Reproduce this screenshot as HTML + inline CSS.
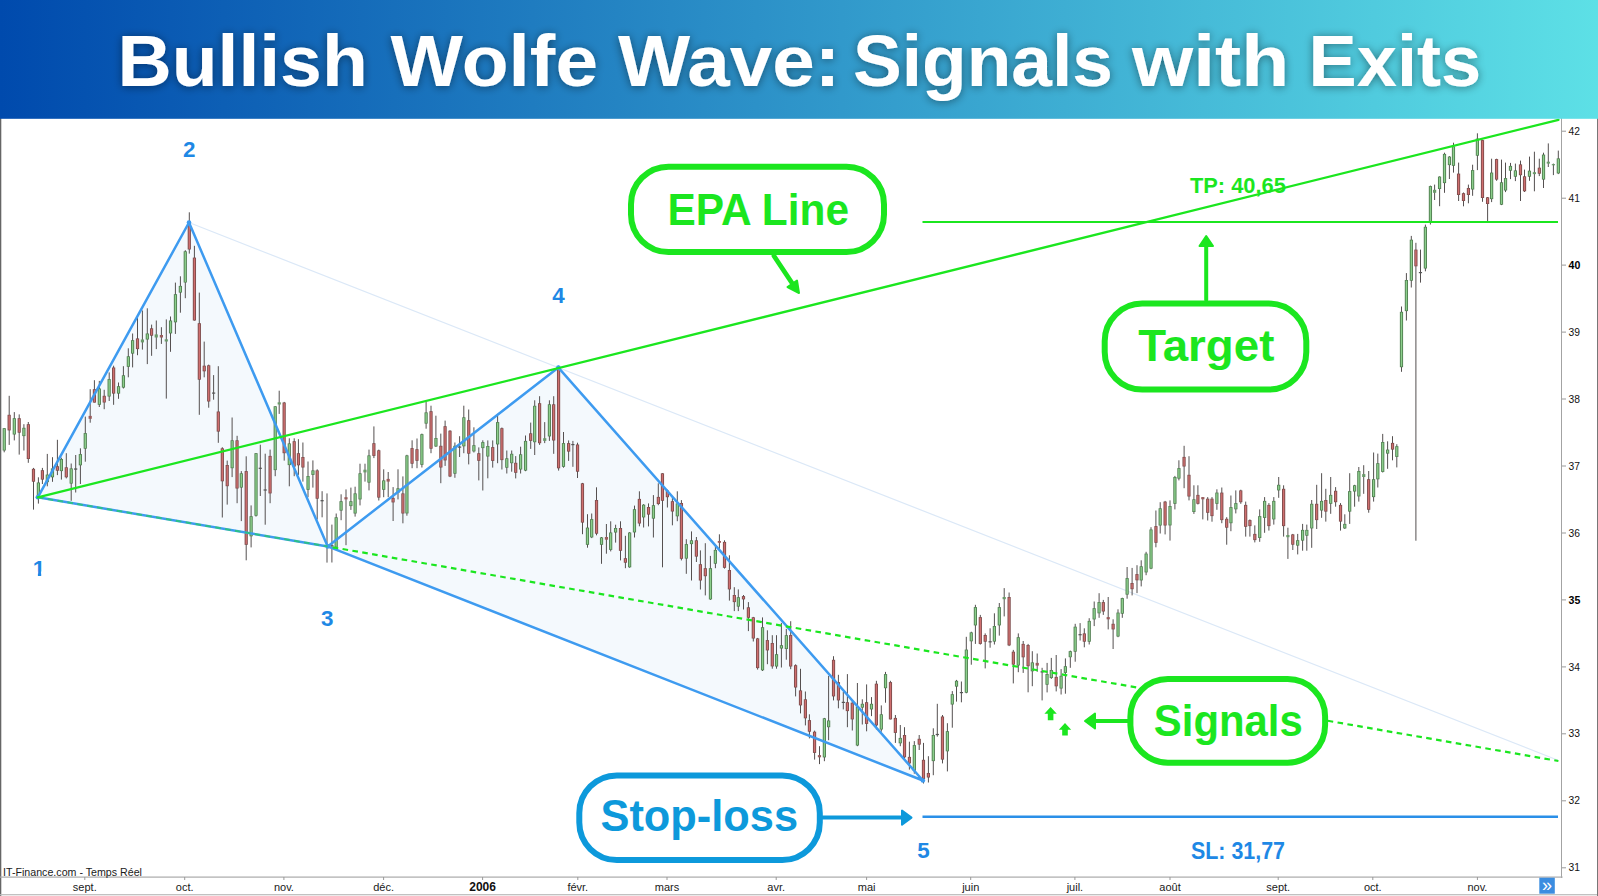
<!DOCTYPE html>
<html lang="en"><head><meta charset="utf-8"><title>Bullish Wolfe Wave: Signals with Exits</title>
<style>
html,body{margin:0;padding:0;background:#fff;}
body{width:1598px;height:896px;overflow:hidden;position:relative;font-family:"Liberation Sans",sans-serif;}
svg{position:absolute;left:0;top:0;display:block}
text{font-family:"Liberation Sans",sans-serif;}
.ax{font-size:11px;fill:#1a1a1a;}
.ay{font-size:10.3px;fill:#111;}
.ayb{font-size:10.6px;fill:#000;font-weight:bold;}
.axb{font-size:12px;fill:#111;font-weight:bold;}
.num{font-size:22.4px;font-weight:bold;fill:#1e88e5;}
.call{font-weight:bold;}
</style></head><body>
<svg width="1598" height="896" viewBox="0 0 1598 896">
<defs>
<linearGradient id="hg" x1="0" y1="0" x2="1" y2="0"><stop offset="0" stop-color="#004aad"/><stop offset="1" stop-color="#5de0e6"/></linearGradient>
<filter id="ts" x="-5%" y="-30%" width="110%" height="160%"><feGaussianBlur in="SourceAlpha" stdDeviation="5"/><feOffset dx="0" dy="1"/><feComponentTransfer><feFuncA type="linear" slope="0.45"/></feComponentTransfer><feMerge><feMergeNode/><feMergeNode in="SourceGraphic"/></feMerge></filter>
</defs>
<rect x="0" y="0" width="1598" height="896" fill="#fff"/>

<g id="frame">
<rect x="0" y="118" width="1.3" height="778" fill="#666"/>
<rect x="1561" y="118" width="0.9" height="760" fill="#999"/>
<rect x="0" y="876.5" width="1562.6" height="1.2" fill="#aaa"/>
<rect x="0" y="894.1" width="1598" height="1.2" fill="#bbb"/>
<rect x="1597" y="118" width="1" height="778" fill="#777"/>
</g>
<g id="pattern">
<polygon points="37.8,497.3 189.0,222.5 327.7,546.4" fill="#f4f9fd"/>
<polygon points="327.7,546.4 558.4,367.6 922.9,780.5" fill="#f4f9fd"/>
<line x1="189.0" y1="222.5" x2="1558" y2="760.2" stroke="#dbe8f7" stroke-width="1.2"/>
</g>
<g id="candles">
<rect x="3.7" y="428.2" width="1" height="24.1" fill="#555050"/>
<rect x="2.64" y="428.2" width="3.2" height="22.3" fill="#4f7d4f"/>
<rect x="3.54" y="428.9" width="1.4" height="20.9" fill="#8ccf8c"/>
<rect x="8.7" y="395.8" width="1" height="49.1" fill="#555050"/>
<rect x="7.55" y="414.8" width="3.2" height="15.6" fill="#7d4b4b"/>
<rect x="8.45" y="415.5" width="1.4" height="14.2" fill="#cf6f6f"/>
<rect x="13.8" y="412.1" width="1" height="28.3" fill="#555050"/>
<rect x="12.69" y="418.2" width="3.2" height="16.3" fill="#4f7d4f"/>
<rect x="13.59" y="418.9" width="1.4" height="14.9" fill="#8ccf8c"/>
<rect x="18.7" y="414.4" width="1" height="40.2" fill="#555050"/>
<rect x="17.60" y="418.2" width="3.2" height="14.5" fill="#7d4b4b"/>
<rect x="18.50" y="418.9" width="1.4" height="13.1" fill="#cf6f6f"/>
<rect x="23.4" y="424.2" width="1" height="26.3" fill="#555050"/>
<rect x="22.28" y="427.8" width="3.2" height="8.3" fill="#4f7d4f"/>
<rect x="23.18" y="428.5" width="1.4" height="6.9" fill="#8ccf8c"/>
<rect x="27.8" y="422.0" width="1" height="40.8" fill="#555050"/>
<rect x="26.75" y="424.2" width="3.2" height="34.8" fill="#7d4b4b"/>
<rect x="27.65" y="424.9" width="1.4" height="33.4" fill="#cf6f6f"/>
<rect x="33.0" y="467.9" width="1" height="41.7" fill="#555050"/>
<rect x="31.88" y="468.8" width="3.2" height="12.9" fill="#7d4b4b"/>
<rect x="32.78" y="469.5" width="1.4" height="11.5" fill="#cf6f6f"/>
<rect x="37.9" y="477.3" width="1" height="26.3" fill="#555050"/>
<rect x="36.79" y="482.5" width="3.2" height="15.0" fill="#4f7d4f"/>
<rect x="37.69" y="483.2" width="1.4" height="13.6" fill="#8ccf8c"/>
<rect x="41.9" y="467.9" width="1" height="16.1" fill="#555050"/>
<rect x="40.81" y="470.2" width="3.2" height="9.4" fill="#7d4b4b"/>
<rect x="41.71" y="470.9" width="1.4" height="8.0" fill="#cf6f6f"/>
<rect x="46.8" y="453.9" width="1" height="32.4" fill="#555050"/>
<rect x="45.72" y="474.6" width="3.2" height="7.6" fill="#4f7d4f"/>
<rect x="46.62" y="475.3" width="1.4" height="6.2" fill="#8ccf8c"/>
<rect x="52.0" y="457.2" width="1" height="24.6" fill="#555050"/>
<rect x="50.86" y="468.4" width="3.2" height="8.9" fill="#4f7d4f"/>
<rect x="51.76" y="469.1" width="1.4" height="7.5" fill="#8ccf8c"/>
<rect x="56.9" y="439.8" width="1" height="35.3" fill="#555050"/>
<rect x="55.77" y="466.2" width="3.2" height="4.5" fill="#7d4b4b"/>
<rect x="56.67" y="466.9" width="1.4" height="3.1" fill="#cf6f6f"/>
<rect x="60.9" y="457.7" width="1" height="21.9" fill="#555050"/>
<rect x="59.78" y="459.0" width="3.2" height="12.1" fill="#4f7d4f"/>
<rect x="60.68" y="459.7" width="1.4" height="10.7" fill="#8ccf8c"/>
<rect x="65.8" y="453.2" width="1" height="25.2" fill="#555050"/>
<rect x="64.69" y="467.3" width="3.2" height="10.0" fill="#7d4b4b"/>
<rect x="65.59" y="468.0" width="1.4" height="8.6" fill="#cf6f6f"/>
<rect x="70.7" y="463.5" width="1" height="37.3" fill="#555050"/>
<rect x="69.61" y="468.4" width="3.2" height="15.2" fill="#4f7d4f"/>
<rect x="70.51" y="469.1" width="1.4" height="13.8" fill="#8ccf8c"/>
<rect x="75.2" y="455.0" width="1" height="37.5" fill="#555050"/>
<rect x="74.07" y="468.4" width="3.2" height="1.3" fill="#555"/>
<rect x="79.9" y="448.3" width="1" height="35.7" fill="#555050"/>
<rect x="78.76" y="454.1" width="3.2" height="11.2" fill="#4f7d4f"/>
<rect x="79.66" y="454.8" width="1.4" height="9.8" fill="#8ccf8c"/>
<rect x="84.8" y="416.6" width="1" height="45.1" fill="#555050"/>
<rect x="83.67" y="433.1" width="3.2" height="15.6" fill="#4f7d4f"/>
<rect x="84.57" y="433.8" width="1.4" height="14.2" fill="#8ccf8c"/>
<rect x="89.7" y="389.2" width="1" height="33.5" fill="#555050"/>
<rect x="88.58" y="415.9" width="3.2" height="2.9" fill="#9a5c5c"/>
<rect x="93.9" y="380.2" width="1" height="22.3" fill="#555050"/>
<rect x="92.82" y="389.2" width="3.2" height="13.4" fill="#7d4b4b"/>
<rect x="93.72" y="389.9" width="1.4" height="12.0" fill="#cf6f6f"/>
<rect x="98.8" y="380.9" width="1" height="26.1" fill="#555050"/>
<rect x="97.73" y="388.5" width="3.2" height="16.3" fill="#4f7d4f"/>
<rect x="98.63" y="389.2" width="1.4" height="14.9" fill="#8ccf8c"/>
<rect x="103.7" y="389.8" width="1" height="19.4" fill="#555050"/>
<rect x="102.64" y="395.8" width="3.2" height="6.7" fill="#7d4b4b"/>
<rect x="103.54" y="396.5" width="1.4" height="5.3" fill="#cf6f6f"/>
<rect x="108.7" y="372.4" width="1" height="28.6" fill="#555050"/>
<rect x="107.55" y="379.1" width="3.2" height="17.4" fill="#4f7d4f"/>
<rect x="108.45" y="379.8" width="1.4" height="16.0" fill="#8ccf8c"/>
<rect x="113.1" y="365.7" width="1" height="39.1" fill="#555050"/>
<rect x="112.02" y="367.5" width="3.2" height="26.1" fill="#7d4b4b"/>
<rect x="112.92" y="368.2" width="1.4" height="24.7" fill="#cf6f6f"/>
<rect x="118.0" y="382.5" width="1" height="16.3" fill="#555050"/>
<rect x="116.93" y="386.2" width="3.2" height="7.4" fill="#4f7d4f"/>
<rect x="117.83" y="386.9" width="1.4" height="6.0" fill="#8ccf8c"/>
<rect x="122.9" y="366.2" width="1" height="22.3" fill="#555050"/>
<rect x="121.84" y="375.3" width="3.2" height="12.3" fill="#4f7d4f"/>
<rect x="122.74" y="376.0" width="1.4" height="10.9" fill="#8ccf8c"/>
<rect x="127.8" y="348.3" width="1" height="29.0" fill="#555050"/>
<rect x="126.75" y="356.3" width="3.2" height="10.5" fill="#4f7d4f"/>
<rect x="127.65" y="357.0" width="1.4" height="9.1" fill="#8ccf8c"/>
<rect x="132.1" y="333.5" width="1" height="33.9" fill="#555050"/>
<rect x="130.99" y="340.2" width="3.2" height="13.4" fill="#4f7d4f"/>
<rect x="131.89" y="340.9" width="1.4" height="12.0" fill="#8ccf8c"/>
<rect x="137.0" y="317.9" width="1" height="37.3" fill="#555050"/>
<rect x="135.90" y="338.4" width="3.2" height="10.7" fill="#7d4b4b"/>
<rect x="136.80" y="339.1" width="1.4" height="9.3" fill="#cf6f6f"/>
<rect x="141.9" y="310.5" width="1" height="39.1" fill="#555050"/>
<rect x="140.81" y="339.5" width="3.2" height="2.9" fill="#6a9a6a"/>
<rect x="146.8" y="308.3" width="1" height="55.8" fill="#555050"/>
<rect x="145.72" y="333.5" width="3.2" height="6.0" fill="#4f7d4f"/>
<rect x="146.62" y="334.2" width="1.4" height="4.6" fill="#8ccf8c"/>
<rect x="151.1" y="324.6" width="1" height="31.2" fill="#555050"/>
<rect x="149.96" y="328.3" width="3.2" height="7.4" fill="#7d4b4b"/>
<rect x="150.86" y="329.0" width="1.4" height="6.0" fill="#cf6f6f"/>
<rect x="155.8" y="320.5" width="1" height="28.6" fill="#555050"/>
<rect x="154.65" y="334.4" width="3.2" height="3.1" fill="#6a9a6a"/>
<rect x="160.9" y="327.2" width="1" height="16.7" fill="#555050"/>
<rect x="159.78" y="335.0" width="3.2" height="2.5" fill="#9a5c5c"/>
<rect x="165.8" y="319.4" width="1" height="79.2" fill="#555050"/>
<rect x="164.69" y="339.3" width="3.2" height="2.2" fill="#6a9a6a"/>
<rect x="170.0" y="316.5" width="1" height="35.3" fill="#555050"/>
<rect x="168.94" y="320.5" width="3.2" height="12.9" fill="#4f7d4f"/>
<rect x="169.84" y="321.2" width="1.4" height="11.5" fill="#8ccf8c"/>
<rect x="174.9" y="282.6" width="1" height="51.3" fill="#555050"/>
<rect x="173.85" y="294.2" width="3.2" height="28.1" fill="#4f7d4f"/>
<rect x="174.75" y="294.9" width="1.4" height="26.7" fill="#8ccf8c"/>
<rect x="179.9" y="276.3" width="1" height="36.4" fill="#555050"/>
<rect x="178.76" y="285.9" width="3.2" height="6.7" fill="#4f7d4f"/>
<rect x="179.66" y="286.6" width="1.4" height="5.3" fill="#8ccf8c"/>
<rect x="184.8" y="250.2" width="1" height="48.0" fill="#555050"/>
<rect x="183.67" y="251.3" width="3.2" height="31.2" fill="#4f7d4f"/>
<rect x="184.57" y="252.0" width="1.4" height="29.9" fill="#8ccf8c"/>
<rect x="188.8" y="212.3" width="1" height="41.3" fill="#555050"/>
<rect x="187.69" y="223.4" width="3.2" height="26.1" fill="#7d4b4b"/>
<rect x="188.59" y="224.1" width="1.4" height="24.7" fill="#cf6f6f"/>
<rect x="193.9" y="245.8" width="1" height="74.8" fill="#555050"/>
<rect x="192.82" y="257.6" width="3.2" height="62.9" fill="#7d4b4b"/>
<rect x="193.72" y="258.3" width="1.4" height="61.5" fill="#cf6f6f"/>
<rect x="198.8" y="292.6" width="1" height="122.2" fill="#555050"/>
<rect x="197.73" y="323.2" width="3.2" height="56.5" fill="#7d4b4b"/>
<rect x="198.63" y="323.9" width="1.4" height="55.1" fill="#cf6f6f"/>
<rect x="203.7" y="341.6" width="1" height="35.7" fill="#555050"/>
<rect x="202.64" y="365.7" width="3.2" height="5.6" fill="#7d4b4b"/>
<rect x="203.54" y="366.4" width="1.4" height="4.2" fill="#cf6f6f"/>
<rect x="208.2" y="364.6" width="1" height="43.1" fill="#555050"/>
<rect x="207.11" y="365.3" width="3.2" height="36.2" fill="#7d4b4b"/>
<rect x="208.01" y="366.0" width="1.4" height="34.8" fill="#cf6f6f"/>
<rect x="213.1" y="375.1" width="1" height="24.6" fill="#555050"/>
<rect x="212.02" y="392.5" width="3.2" height="1.2" fill="#555"/>
<rect x="217.8" y="366.2" width="1" height="76.6" fill="#555050"/>
<rect x="216.70" y="411.5" width="3.2" height="20.1" fill="#7d4b4b"/>
<rect x="217.60" y="412.2" width="1.4" height="18.7" fill="#cf6f6f"/>
<rect x="221.8" y="447.2" width="1" height="70.3" fill="#555050"/>
<rect x="220.72" y="448.3" width="3.2" height="33.0" fill="#7d4b4b"/>
<rect x="221.62" y="449.0" width="1.4" height="31.6" fill="#cf6f6f"/>
<rect x="226.7" y="460.6" width="1" height="44.0" fill="#555050"/>
<rect x="225.63" y="465.0" width="3.2" height="21.2" fill="#7d4b4b"/>
<rect x="226.53" y="465.7" width="1.4" height="19.8" fill="#cf6f6f"/>
<rect x="231.6" y="417.5" width="1" height="59.6" fill="#555050"/>
<rect x="230.54" y="440.3" width="3.2" height="27.9" fill="#4f7d4f"/>
<rect x="231.44" y="441.0" width="1.4" height="26.5" fill="#8ccf8c"/>
<rect x="236.6" y="435.8" width="1" height="67.4" fill="#555050"/>
<rect x="235.45" y="440.3" width="3.2" height="48.2" fill="#7d4b4b"/>
<rect x="236.35" y="441.0" width="1.4" height="46.8" fill="#cf6f6f"/>
<rect x="240.8" y="471.1" width="1" height="50.0" fill="#555050"/>
<rect x="239.69" y="473.3" width="3.2" height="14.3" fill="#4f7d4f"/>
<rect x="240.59" y="474.0" width="1.4" height="12.9" fill="#8ccf8c"/>
<rect x="245.7" y="456.3" width="1" height="104.0" fill="#555050"/>
<rect x="244.61" y="471.1" width="3.2" height="73.7" fill="#7d4b4b"/>
<rect x="245.51" y="471.8" width="1.4" height="72.3" fill="#cf6f6f"/>
<rect x="250.6" y="505.4" width="1" height="42.0" fill="#555050"/>
<rect x="249.52" y="516.2" width="3.2" height="20.1" fill="#4f7d4f"/>
<rect x="250.42" y="516.9" width="1.4" height="18.7" fill="#8ccf8c"/>
<rect x="255.5" y="453.2" width="1" height="63.4" fill="#555050"/>
<rect x="254.43" y="453.2" width="3.2" height="62.5" fill="#4f7d4f"/>
<rect x="255.33" y="453.9" width="1.4" height="61.1" fill="#8ccf8c"/>
<rect x="259.8" y="444.7" width="1" height="51.3" fill="#555050"/>
<rect x="258.67" y="467.7" width="3.2" height="1.2" fill="#555"/>
<rect x="264.7" y="453.7" width="1" height="71.0" fill="#555050"/>
<rect x="263.58" y="489.4" width="3.2" height="1.2" fill="#555"/>
<rect x="269.6" y="449.6" width="1" height="53.6" fill="#555050"/>
<rect x="268.49" y="455.9" width="3.2" height="37.5" fill="#7d4b4b"/>
<rect x="269.39" y="456.6" width="1.4" height="36.1" fill="#cf6f6f"/>
<rect x="274.7" y="406.3" width="1" height="69.9" fill="#555050"/>
<rect x="273.62" y="406.3" width="3.2" height="63.8" fill="#4f7d4f"/>
<rect x="274.52" y="407.0" width="1.4" height="62.4" fill="#8ccf8c"/>
<rect x="278.7" y="390.7" width="1" height="23.2" fill="#555050"/>
<rect x="277.64" y="402.3" width="3.2" height="2.2" fill="#6a9a6a"/>
<rect x="283.7" y="401.9" width="1" height="58.7" fill="#555050"/>
<rect x="282.55" y="402.5" width="3.2" height="50.7" fill="#7d4b4b"/>
<rect x="283.45" y="403.2" width="1.4" height="49.3" fill="#cf6f6f"/>
<rect x="288.8" y="438.3" width="1" height="48.0" fill="#555050"/>
<rect x="287.69" y="443.4" width="3.2" height="21.7" fill="#4f7d4f"/>
<rect x="288.59" y="444.1" width="1.4" height="20.3" fill="#8ccf8c"/>
<rect x="293.7" y="438.3" width="1" height="37.9" fill="#555050"/>
<rect x="292.60" y="441.2" width="3.2" height="25.4" fill="#7d4b4b"/>
<rect x="293.50" y="441.9" width="1.4" height="24.0" fill="#cf6f6f"/>
<rect x="297.9" y="439.2" width="1" height="35.7" fill="#555050"/>
<rect x="296.84" y="453.2" width="3.2" height="12.1" fill="#7d4b4b"/>
<rect x="297.74" y="453.9" width="1.4" height="10.7" fill="#cf6f6f"/>
<rect x="302.4" y="442.5" width="1" height="39.1" fill="#555050"/>
<rect x="301.30" y="457.0" width="3.2" height="10.5" fill="#7d4b4b"/>
<rect x="302.20" y="457.7" width="1.4" height="9.1" fill="#cf6f6f"/>
<rect x="307.5" y="461.5" width="1" height="35.7" fill="#555050"/>
<rect x="306.44" y="476.0" width="3.2" height="13.8" fill="#4f7d4f"/>
<rect x="307.34" y="476.7" width="1.4" height="12.4" fill="#8ccf8c"/>
<rect x="312.4" y="460.4" width="1" height="27.2" fill="#555050"/>
<rect x="311.35" y="470.4" width="3.2" height="4.5" fill="#4f7d4f"/>
<rect x="312.25" y="471.1" width="1.4" height="3.1" fill="#8ccf8c"/>
<rect x="316.7" y="469.3" width="1" height="50.2" fill="#555050"/>
<rect x="315.59" y="470.4" width="3.2" height="28.3" fill="#7d4b4b"/>
<rect x="316.49" y="471.1" width="1.4" height="26.9" fill="#cf6f6f"/>
<rect x="321.6" y="491.2" width="1" height="26.1" fill="#555050"/>
<rect x="320.50" y="500.1" width="3.2" height="1.2" fill="#555"/>
<rect x="326.5" y="493.4" width="1" height="69.2" fill="#555050"/>
<rect x="325.41" y="545.2" width="3.2" height="1.2" fill="#555"/>
<rect x="331.4" y="524.6" width="1" height="37.9" fill="#555050"/>
<rect x="330.32" y="545.2" width="3.2" height="1.2" fill="#555"/>
<rect x="335.7" y="513.5" width="1" height="34.4" fill="#555050"/>
<rect x="334.56" y="517.3" width="3.2" height="30.1" fill="#4f7d4f"/>
<rect x="335.46" y="518.0" width="1.4" height="28.7" fill="#8ccf8c"/>
<rect x="340.6" y="494.3" width="1" height="25.9" fill="#555050"/>
<rect x="339.47" y="501.2" width="3.2" height="9.4" fill="#4f7d4f"/>
<rect x="340.37" y="501.9" width="1.4" height="8.0" fill="#8ccf8c"/>
<rect x="345.5" y="489.4" width="1" height="55.8" fill="#555050"/>
<rect x="344.38" y="497.2" width="3.2" height="2.2" fill="#9a5c5c"/>
<rect x="350.4" y="487.6" width="1" height="22.3" fill="#555050"/>
<rect x="349.29" y="501.2" width="3.2" height="4.9" fill="#4f7d4f"/>
<rect x="350.19" y="501.9" width="1.4" height="3.5" fill="#8ccf8c"/>
<rect x="354.6" y="486.7" width="1" height="29.9" fill="#555050"/>
<rect x="353.53" y="493.4" width="3.2" height="20.1" fill="#4f7d4f"/>
<rect x="354.43" y="494.1" width="1.4" height="18.7" fill="#8ccf8c"/>
<rect x="359.5" y="463.7" width="1" height="41.7" fill="#555050"/>
<rect x="358.44" y="473.3" width="3.2" height="26.1" fill="#4f7d4f"/>
<rect x="359.34" y="474.0" width="1.4" height="24.7" fill="#8ccf8c"/>
<rect x="364.5" y="463.7" width="1" height="17.9" fill="#555050"/>
<rect x="363.36" y="469.7" width="3.2" height="2.7" fill="#6a9a6a"/>
<rect x="368.5" y="449.6" width="1" height="40.8" fill="#555050"/>
<rect x="367.37" y="455.4" width="3.2" height="27.2" fill="#4f7d4f"/>
<rect x="368.27" y="456.1" width="1.4" height="25.8" fill="#8ccf8c"/>
<rect x="373.4" y="426.4" width="1" height="31.7" fill="#555050"/>
<rect x="372.28" y="443.2" width="3.2" height="12.7" fill="#7d4b4b"/>
<rect x="373.18" y="443.9" width="1.4" height="11.3" fill="#cf6f6f"/>
<rect x="378.3" y="449.6" width="1" height="50.9" fill="#555050"/>
<rect x="377.19" y="450.3" width="3.2" height="47.3" fill="#7d4b4b"/>
<rect x="378.09" y="451.0" width="1.4" height="45.9" fill="#cf6f6f"/>
<rect x="383.2" y="469.3" width="1" height="27.9" fill="#555050"/>
<rect x="382.11" y="480.4" width="3.2" height="9.4" fill="#4f7d4f"/>
<rect x="383.01" y="481.1" width="1.4" height="8.0" fill="#8ccf8c"/>
<rect x="387.7" y="472.0" width="1" height="25.2" fill="#555050"/>
<rect x="386.57" y="478.9" width="3.2" height="2.7" fill="#9a5c5c"/>
<rect x="392.6" y="487.1" width="1" height="33.9" fill="#555050"/>
<rect x="391.48" y="497.9" width="3.2" height="4.5" fill="#7d4b4b"/>
<rect x="392.38" y="498.6" width="1.4" height="3.1" fill="#cf6f6f"/>
<rect x="397.5" y="469.3" width="1" height="30.1" fill="#555050"/>
<rect x="396.39" y="488.3" width="3.2" height="4.5" fill="#4f7d4f"/>
<rect x="397.29" y="489.0" width="1.4" height="3.1" fill="#8ccf8c"/>
<rect x="402.4" y="476.4" width="1" height="46.9" fill="#555050"/>
<rect x="401.30" y="493.4" width="3.2" height="20.1" fill="#7d4b4b"/>
<rect x="402.20" y="494.1" width="1.4" height="18.7" fill="#cf6f6f"/>
<rect x="406.4" y="454.8" width="1" height="60.9" fill="#555050"/>
<rect x="405.32" y="455.4" width="3.2" height="58.0" fill="#4f7d4f"/>
<rect x="406.22" y="456.1" width="1.4" height="56.6" fill="#8ccf8c"/>
<rect x="411.6" y="440.3" width="1" height="27.9" fill="#555050"/>
<rect x="410.45" y="448.1" width="3.2" height="15.6" fill="#7d4b4b"/>
<rect x="411.35" y="448.8" width="1.4" height="14.2" fill="#cf6f6f"/>
<rect x="416.5" y="438.5" width="1" height="29.7" fill="#555050"/>
<rect x="415.36" y="449.2" width="3.2" height="11.6" fill="#7d4b4b"/>
<rect x="416.26" y="449.9" width="1.4" height="10.2" fill="#cf6f6f"/>
<rect x="421.4" y="433.6" width="1" height="33.9" fill="#555050"/>
<rect x="420.27" y="434.2" width="3.2" height="30.6" fill="#4f7d4f"/>
<rect x="421.18" y="434.9" width="1.4" height="29.2" fill="#8ccf8c"/>
<rect x="425.6" y="401.9" width="1" height="26.8" fill="#555050"/>
<rect x="424.52" y="412.4" width="3.2" height="11.2" fill="#4f7d4f"/>
<rect x="425.42" y="413.1" width="1.4" height="9.8" fill="#8ccf8c"/>
<rect x="430.5" y="405.7" width="1" height="47.5" fill="#555050"/>
<rect x="429.43" y="411.2" width="3.2" height="37.5" fill="#7d4b4b"/>
<rect x="430.33" y="411.9" width="1.4" height="36.1" fill="#cf6f6f"/>
<rect x="435.4" y="415.7" width="1" height="31.2" fill="#555050"/>
<rect x="434.34" y="438.0" width="3.2" height="8.5" fill="#4f7d4f"/>
<rect x="435.24" y="438.7" width="1.4" height="7.1" fill="#8ccf8c"/>
<rect x="440.3" y="433.6" width="1" height="49.6" fill="#555050"/>
<rect x="439.25" y="445.8" width="3.2" height="21.7" fill="#7d4b4b"/>
<rect x="440.15" y="446.5" width="1.4" height="20.3" fill="#cf6f6f"/>
<rect x="444.6" y="420.6" width="1" height="45.3" fill="#555050"/>
<rect x="443.49" y="426.2" width="3.2" height="34.2" fill="#7d4b4b"/>
<rect x="444.39" y="426.9" width="1.4" height="32.8" fill="#cf6f6f"/>
<rect x="449.5" y="430.2" width="1" height="46.9" fill="#555050"/>
<rect x="448.40" y="430.7" width="3.2" height="45.8" fill="#7d4b4b"/>
<rect x="449.30" y="431.4" width="1.4" height="44.4" fill="#cf6f6f"/>
<rect x="454.4" y="442.5" width="1" height="35.3" fill="#555050"/>
<rect x="453.31" y="445.8" width="3.2" height="27.9" fill="#4f7d4f"/>
<rect x="454.21" y="446.5" width="1.4" height="26.5" fill="#8ccf8c"/>
<rect x="459.1" y="436.2" width="1" height="20.8" fill="#555050"/>
<rect x="458.00" y="446.5" width="3.2" height="1.2" fill="#555"/>
<rect x="463.3" y="405.7" width="1" height="47.5" fill="#555050"/>
<rect x="462.24" y="417.3" width="3.2" height="29.0" fill="#4f7d4f"/>
<rect x="463.14" y="418.0" width="1.4" height="27.6" fill="#8ccf8c"/>
<rect x="468.2" y="409.5" width="1" height="54.9" fill="#555050"/>
<rect x="467.15" y="420.2" width="3.2" height="33.5" fill="#7d4b4b"/>
<rect x="468.05" y="420.9" width="1.4" height="32.1" fill="#cf6f6f"/>
<rect x="473.4" y="427.3" width="1" height="25.2" fill="#555050"/>
<rect x="472.28" y="445.2" width="3.2" height="6.2" fill="#4f7d4f"/>
<rect x="473.18" y="445.9" width="1.4" height="4.8" fill="#8ccf8c"/>
<rect x="478.3" y="447.4" width="1" height="33.0" fill="#555050"/>
<rect x="477.19" y="453.2" width="3.2" height="7.6" fill="#7d4b4b"/>
<rect x="478.09" y="453.9" width="1.4" height="6.2" fill="#cf6f6f"/>
<rect x="482.3" y="440.3" width="1" height="50.2" fill="#555050"/>
<rect x="481.21" y="442.1" width="3.2" height="6.0" fill="#4f7d4f"/>
<rect x="482.11" y="442.8" width="1.4" height="4.6" fill="#8ccf8c"/>
<rect x="487.3" y="440.4" width="1" height="37.9" fill="#555050"/>
<rect x="486.21" y="446.0" width="3.2" height="10.5" fill="#4f7d4f"/>
<rect x="487.11" y="446.7" width="1.4" height="9.1" fill="#8ccf8c"/>
<rect x="492.2" y="440.4" width="1" height="27.2" fill="#555050"/>
<rect x="491.12" y="447.1" width="3.2" height="13.8" fill="#7d4b4b"/>
<rect x="492.02" y="447.8" width="1.4" height="12.4" fill="#cf6f6f"/>
<rect x="497.1" y="415.9" width="1" height="47.3" fill="#555050"/>
<rect x="496.03" y="422.1" width="3.2" height="22.3" fill="#4f7d4f"/>
<rect x="496.93" y="422.8" width="1.4" height="20.9" fill="#8ccf8c"/>
<rect x="501.4" y="427.5" width="1" height="42.0" fill="#555050"/>
<rect x="500.27" y="428.2" width="3.2" height="31.9" fill="#7d4b4b"/>
<rect x="501.18" y="428.9" width="1.4" height="30.5" fill="#cf6f6f"/>
<rect x="506.3" y="450.5" width="1" height="23.0" fill="#555050"/>
<rect x="505.19" y="458.3" width="3.2" height="9.4" fill="#4f7d4f"/>
<rect x="506.09" y="459.0" width="1.4" height="8.0" fill="#8ccf8c"/>
<rect x="511.2" y="450.5" width="1" height="21.2" fill="#555050"/>
<rect x="510.10" y="453.8" width="3.2" height="9.4" fill="#4f7d4f"/>
<rect x="511.00" y="454.5" width="1.4" height="8.0" fill="#8ccf8c"/>
<rect x="515.2" y="456.1" width="1" height="22.3" fill="#555050"/>
<rect x="514.11" y="462.8" width="3.2" height="10.0" fill="#7d4b4b"/>
<rect x="515.01" y="463.5" width="1.4" height="8.6" fill="#cf6f6f"/>
<rect x="520.1" y="446.7" width="1" height="26.8" fill="#555050"/>
<rect x="519.02" y="454.3" width="3.2" height="15.2" fill="#4f7d4f"/>
<rect x="519.92" y="455.0" width="1.4" height="13.8" fill="#8ccf8c"/>
<rect x="525.0" y="435.5" width="1" height="35.7" fill="#555050"/>
<rect x="523.94" y="440.9" width="3.2" height="29.7" fill="#4f7d4f"/>
<rect x="524.84" y="441.6" width="1.4" height="28.3" fill="#8ccf8c"/>
<rect x="530.2" y="422.6" width="1" height="26.3" fill="#555050"/>
<rect x="529.07" y="433.3" width="3.2" height="7.6" fill="#7d4b4b"/>
<rect x="529.97" y="434.0" width="1.4" height="6.2" fill="#cf6f6f"/>
<rect x="534.2" y="400.3" width="1" height="54.7" fill="#555050"/>
<rect x="533.09" y="405.8" width="3.2" height="36.4" fill="#4f7d4f"/>
<rect x="533.99" y="406.5" width="1.4" height="35.0" fill="#8ccf8c"/>
<rect x="539.1" y="396.2" width="1" height="48.7" fill="#555050"/>
<rect x="538.00" y="403.2" width="3.2" height="40.0" fill="#7d4b4b"/>
<rect x="538.90" y="403.9" width="1.4" height="38.6" fill="#cf6f6f"/>
<rect x="544.2" y="422.1" width="1" height="21.0" fill="#555050"/>
<rect x="543.13" y="438.2" width="3.2" height="2.7" fill="#6a9a6a"/>
<rect x="548.9" y="400.3" width="1" height="40.6" fill="#555050"/>
<rect x="547.82" y="404.3" width="3.2" height="32.1" fill="#4f7d4f"/>
<rect x="548.72" y="405.0" width="1.4" height="30.7" fill="#8ccf8c"/>
<rect x="553.2" y="396.2" width="1" height="57.6" fill="#555050"/>
<rect x="552.06" y="404.3" width="3.2" height="36.2" fill="#7d4b4b"/>
<rect x="552.96" y="405.0" width="1.4" height="34.8" fill="#cf6f6f"/>
<rect x="558.1" y="365.7" width="1" height="104.9" fill="#555050"/>
<rect x="556.97" y="369.0" width="3.2" height="99.3" fill="#7d4b4b"/>
<rect x="557.87" y="369.7" width="1.4" height="97.9" fill="#cf6f6f"/>
<rect x="563.0" y="432.0" width="1" height="35.7" fill="#555050"/>
<rect x="561.88" y="443.1" width="3.2" height="23.7" fill="#4f7d4f"/>
<rect x="562.78" y="443.8" width="1.4" height="22.3" fill="#8ccf8c"/>
<rect x="568.1" y="440.4" width="1" height="20.5" fill="#555050"/>
<rect x="567.02" y="443.1" width="3.2" height="8.5" fill="#7d4b4b"/>
<rect x="567.92" y="443.8" width="1.4" height="7.1" fill="#cf6f6f"/>
<rect x="572.4" y="440.9" width="1" height="25.9" fill="#555050"/>
<rect x="571.26" y="444.0" width="3.2" height="1.2" fill="#555"/>
<rect x="577.0" y="442.7" width="1" height="35.3" fill="#555050"/>
<rect x="575.94" y="444.5" width="3.2" height="27.2" fill="#7d4b4b"/>
<rect x="576.84" y="445.2" width="1.4" height="25.8" fill="#cf6f6f"/>
<rect x="582.0" y="482.9" width="1" height="51.3" fill="#555050"/>
<rect x="580.86" y="483.3" width="3.2" height="39.3" fill="#7d4b4b"/>
<rect x="581.76" y="484.0" width="1.4" height="37.9" fill="#cf6f6f"/>
<rect x="587.0" y="514.2" width="1" height="33.5" fill="#555050"/>
<rect x="585.86" y="527.6" width="3.2" height="17.2" fill="#4f7d4f"/>
<rect x="586.76" y="528.3" width="1.4" height="15.8" fill="#8ccf8c"/>
<rect x="591.2" y="513.5" width="1" height="24.6" fill="#555050"/>
<rect x="590.10" y="519.1" width="3.2" height="18.3" fill="#4f7d4f"/>
<rect x="591.00" y="519.8" width="1.4" height="16.9" fill="#8ccf8c"/>
<rect x="596.0" y="487.3" width="1" height="48.0" fill="#555050"/>
<rect x="594.92" y="500.0" width="3.2" height="33.7" fill="#7d4b4b"/>
<rect x="595.82" y="500.7" width="1.4" height="32.3" fill="#cf6f6f"/>
<rect x="601.0" y="537.0" width="1" height="26.8" fill="#555050"/>
<rect x="599.92" y="537.4" width="3.2" height="7.4" fill="#4f7d4f"/>
<rect x="600.82" y="538.1" width="1.4" height="6.0" fill="#8ccf8c"/>
<rect x="605.9" y="524.0" width="1" height="29.7" fill="#555050"/>
<rect x="604.83" y="537.0" width="3.2" height="2.7" fill="#9a5c5c"/>
<rect x="610.2" y="521.3" width="1" height="30.1" fill="#555050"/>
<rect x="609.07" y="532.5" width="3.2" height="17.4" fill="#4f7d4f"/>
<rect x="609.97" y="533.2" width="1.4" height="16.0" fill="#8ccf8c"/>
<rect x="615.1" y="524.7" width="1" height="17.9" fill="#555050"/>
<rect x="613.98" y="528.0" width="3.2" height="4.5" fill="#4f7d4f"/>
<rect x="614.88" y="528.7" width="1.4" height="3.1" fill="#8ccf8c"/>
<rect x="620.0" y="521.3" width="1" height="39.1" fill="#555050"/>
<rect x="618.89" y="528.0" width="3.2" height="22.8" fill="#7d4b4b"/>
<rect x="619.79" y="528.7" width="1.4" height="21.4" fill="#cf6f6f"/>
<rect x="624.9" y="535.8" width="1" height="32.4" fill="#555050"/>
<rect x="623.80" y="558.2" width="3.2" height="4.5" fill="#7d4b4b"/>
<rect x="624.70" y="558.9" width="1.4" height="3.1" fill="#cf6f6f"/>
<rect x="629.1" y="532.1" width="1" height="35.7" fill="#555050"/>
<rect x="628.04" y="532.5" width="3.2" height="34.8" fill="#4f7d4f"/>
<rect x="628.94" y="533.2" width="1.4" height="33.4" fill="#8ccf8c"/>
<rect x="634.0" y="505.6" width="1" height="31.9" fill="#555050"/>
<rect x="632.86" y="509.2" width="3.2" height="23.2" fill="#4f7d4f"/>
<rect x="633.76" y="509.9" width="1.4" height="21.8" fill="#8ccf8c"/>
<rect x="638.9" y="491.3" width="1" height="35.0" fill="#555050"/>
<rect x="637.77" y="498.9" width="3.2" height="24.6" fill="#7d4b4b"/>
<rect x="638.67" y="499.6" width="1.4" height="23.2" fill="#cf6f6f"/>
<rect x="643.1" y="504.1" width="1" height="23.4" fill="#555050"/>
<rect x="642.02" y="504.7" width="3.2" height="12.7" fill="#4f7d4f"/>
<rect x="642.92" y="505.4" width="1.4" height="11.3" fill="#8ccf8c"/>
<rect x="648.0" y="503.4" width="1" height="23.0" fill="#555050"/>
<rect x="646.93" y="507.0" width="3.2" height="7.6" fill="#7d4b4b"/>
<rect x="647.83" y="507.7" width="1.4" height="6.2" fill="#cf6f6f"/>
<rect x="652.9" y="495.1" width="1" height="42.4" fill="#555050"/>
<rect x="651.84" y="505.2" width="3.2" height="13.4" fill="#4f7d4f"/>
<rect x="652.74" y="505.9" width="1.4" height="12.0" fill="#8ccf8c"/>
<rect x="657.8" y="483.3" width="1" height="21.9" fill="#555050"/>
<rect x="656.75" y="496.9" width="3.2" height="7.1" fill="#7d4b4b"/>
<rect x="657.65" y="497.6" width="1.4" height="5.7" fill="#cf6f6f"/>
<rect x="662.0" y="473.3" width="1" height="94.0" fill="#555050"/>
<rect x="660.86" y="473.3" width="3.2" height="27.5" fill="#7d4b4b"/>
<rect x="661.76" y="474.0" width="1.4" height="26.1" fill="#cf6f6f"/>
<rect x="666.9" y="489.6" width="1" height="17.9" fill="#555050"/>
<rect x="665.77" y="490.5" width="3.2" height="6.7" fill="#7d4b4b"/>
<rect x="666.67" y="491.2" width="1.4" height="5.3" fill="#cf6f6f"/>
<rect x="671.9" y="497.4" width="1" height="27.9" fill="#555050"/>
<rect x="670.81" y="501.2" width="3.2" height="10.3" fill="#7d4b4b"/>
<rect x="671.71" y="501.9" width="1.4" height="8.9" fill="#cf6f6f"/>
<rect x="676.8" y="491.3" width="1" height="29.9" fill="#555050"/>
<rect x="675.72" y="503.4" width="3.2" height="12.9" fill="#4f7d4f"/>
<rect x="676.62" y="504.1" width="1.4" height="11.5" fill="#8ccf8c"/>
<rect x="680.9" y="500.1" width="1" height="60.3" fill="#555050"/>
<rect x="679.83" y="503.0" width="3.2" height="55.8" fill="#7d4b4b"/>
<rect x="680.73" y="503.7" width="1.4" height="54.4" fill="#cf6f6f"/>
<rect x="685.8" y="539.2" width="1" height="34.6" fill="#555050"/>
<rect x="684.74" y="544.1" width="3.2" height="14.5" fill="#4f7d4f"/>
<rect x="685.64" y="544.8" width="1.4" height="13.1" fill="#8ccf8c"/>
<rect x="691.0" y="531.4" width="1" height="49.1" fill="#555050"/>
<rect x="689.87" y="540.3" width="3.2" height="3.8" fill="#4f7d4f"/>
<rect x="690.77" y="541.0" width="1.4" height="2.4" fill="#8ccf8c"/>
<rect x="695.9" y="537.0" width="1" height="25.0" fill="#555050"/>
<rect x="694.78" y="540.3" width="3.2" height="16.3" fill="#7d4b4b"/>
<rect x="695.68" y="541.0" width="1.4" height="14.9" fill="#cf6f6f"/>
<rect x="699.9" y="550.4" width="1" height="39.1" fill="#555050"/>
<rect x="698.80" y="564.2" width="3.2" height="16.3" fill="#7d4b4b"/>
<rect x="699.70" y="564.9" width="1.4" height="14.9" fill="#cf6f6f"/>
<rect x="704.8" y="543.2" width="1" height="52.2" fill="#555050"/>
<rect x="703.71" y="568.2" width="3.2" height="8.0" fill="#7d4b4b"/>
<rect x="704.61" y="568.9" width="1.4" height="6.6" fill="#cf6f6f"/>
<rect x="709.9" y="555.9" width="1" height="44.0" fill="#555050"/>
<rect x="708.85" y="568.2" width="3.2" height="31.2" fill="#4f7d4f"/>
<rect x="709.75" y="568.9" width="1.4" height="29.9" fill="#8ccf8c"/>
<rect x="714.9" y="546.3" width="1" height="21.9" fill="#555050"/>
<rect x="713.76" y="549.9" width="3.2" height="13.8" fill="#4f7d4f"/>
<rect x="714.66" y="550.6" width="1.4" height="12.4" fill="#8ccf8c"/>
<rect x="718.9" y="534.3" width="1" height="15.6" fill="#555050"/>
<rect x="717.77" y="541.0" width="3.2" height="1.8" fill="#9a5c5c"/>
<rect x="724.0" y="540.3" width="1" height="28.3" fill="#555050"/>
<rect x="722.91" y="541.9" width="3.2" height="25.9" fill="#7d4b4b"/>
<rect x="723.81" y="542.6" width="1.4" height="24.5" fill="#cf6f6f"/>
<rect x="728.9" y="555.3" width="1" height="45.3" fill="#555050"/>
<rect x="727.82" y="570.0" width="3.2" height="19.4" fill="#7d4b4b"/>
<rect x="728.72" y="570.7" width="1.4" height="18.0" fill="#cf6f6f"/>
<rect x="733.8" y="587.2" width="1" height="23.9" fill="#555050"/>
<rect x="732.73" y="595.0" width="3.2" height="7.1" fill="#7d4b4b"/>
<rect x="733.63" y="595.7" width="1.4" height="5.7" fill="#cf6f6f"/>
<rect x="737.8" y="589.4" width="1" height="21.7" fill="#555050"/>
<rect x="736.75" y="597.2" width="3.2" height="9.4" fill="#4f7d4f"/>
<rect x="737.65" y="597.9" width="1.4" height="8.0" fill="#8ccf8c"/>
<rect x="743.0" y="595.0" width="1" height="14.5" fill="#555050"/>
<rect x="741.88" y="596.1" width="3.2" height="3.3" fill="#7d4b4b"/>
<rect x="742.78" y="596.8" width="1.4" height="1.9" fill="#cf6f6f"/>
<rect x="747.9" y="602.1" width="1" height="29.0" fill="#555050"/>
<rect x="746.79" y="607.3" width="3.2" height="10.5" fill="#7d4b4b"/>
<rect x="747.69" y="608.0" width="1.4" height="9.1" fill="#cf6f6f"/>
<rect x="752.8" y="616.9" width="1" height="24.6" fill="#555050"/>
<rect x="751.70" y="617.3" width="3.2" height="21.2" fill="#7d4b4b"/>
<rect x="752.60" y="618.0" width="1.4" height="19.8" fill="#cf6f6f"/>
<rect x="757.1" y="637.9" width="1" height="31.7" fill="#555050"/>
<rect x="756.03" y="638.4" width="3.2" height="29.7" fill="#7d4b4b"/>
<rect x="756.93" y="639.1" width="1.4" height="28.3" fill="#cf6f6f"/>
<rect x="762.0" y="617.4" width="1" height="53.6" fill="#555050"/>
<rect x="760.94" y="627.2" width="3.2" height="43.1" fill="#4f7d4f"/>
<rect x="761.84" y="627.9" width="1.4" height="41.7" fill="#8ccf8c"/>
<rect x="766.9" y="630.3" width="1" height="33.9" fill="#555050"/>
<rect x="765.77" y="640.1" width="3.2" height="10.3" fill="#7d4b4b"/>
<rect x="766.67" y="640.8" width="1.4" height="8.9" fill="#cf6f6f"/>
<rect x="771.8" y="635.2" width="1" height="33.5" fill="#555050"/>
<rect x="770.68" y="643.0" width="3.2" height="23.4" fill="#7d4b4b"/>
<rect x="771.58" y="643.7" width="1.4" height="22.0" fill="#cf6f6f"/>
<rect x="776.0" y="635.2" width="1" height="33.5" fill="#555050"/>
<rect x="774.92" y="654.2" width="3.2" height="12.3" fill="#4f7d4f"/>
<rect x="775.82" y="654.9" width="1.4" height="10.9" fill="#8ccf8c"/>
<rect x="780.9" y="622.9" width="1" height="44.6" fill="#555050"/>
<rect x="779.83" y="645.2" width="3.2" height="3.3" fill="#4f7d4f"/>
<rect x="780.73" y="645.9" width="1.4" height="1.9" fill="#8ccf8c"/>
<rect x="785.8" y="628.9" width="1" height="30.8" fill="#555050"/>
<rect x="784.74" y="635.2" width="3.2" height="13.8" fill="#4f7d4f"/>
<rect x="785.64" y="635.9" width="1.4" height="12.4" fill="#8ccf8c"/>
<rect x="790.2" y="621.2" width="1" height="48.0" fill="#555050"/>
<rect x="789.07" y="635.0" width="3.2" height="31.5" fill="#7d4b4b"/>
<rect x="789.97" y="635.7" width="1.4" height="30.1" fill="#cf6f6f"/>
<rect x="795.1" y="664.3" width="1" height="32.1" fill="#555050"/>
<rect x="793.98" y="665.2" width="3.2" height="22.3" fill="#7d4b4b"/>
<rect x="794.88" y="665.9" width="1.4" height="20.9" fill="#cf6f6f"/>
<rect x="800.0" y="668.8" width="1" height="44.6" fill="#555050"/>
<rect x="798.89" y="690.4" width="3.2" height="15.0" fill="#7d4b4b"/>
<rect x="799.79" y="691.1" width="1.4" height="13.6" fill="#cf6f6f"/>
<rect x="804.9" y="691.5" width="1" height="33.9" fill="#555050"/>
<rect x="803.80" y="699.3" width="3.2" height="19.0" fill="#7d4b4b"/>
<rect x="804.70" y="700.0" width="1.4" height="17.6" fill="#cf6f6f"/>
<rect x="808.9" y="714.3" width="1" height="24.1" fill="#555050"/>
<rect x="807.82" y="720.1" width="3.2" height="11.6" fill="#7d4b4b"/>
<rect x="808.72" y="720.8" width="1.4" height="10.2" fill="#cf6f6f"/>
<rect x="814.1" y="730.6" width="1" height="29.0" fill="#555050"/>
<rect x="812.95" y="731.7" width="3.2" height="21.2" fill="#7d4b4b"/>
<rect x="813.85" y="732.4" width="1.4" height="19.8" fill="#cf6f6f"/>
<rect x="819.0" y="746.2" width="1" height="17.9" fill="#555050"/>
<rect x="817.86" y="755.1" width="3.2" height="2.2" fill="#9a5c5c"/>
<rect x="823.9" y="717.9" width="1" height="43.3" fill="#555050"/>
<rect x="822.77" y="718.3" width="3.2" height="39.1" fill="#4f7d4f"/>
<rect x="823.67" y="719.0" width="1.4" height="37.7" fill="#8ccf8c"/>
<rect x="828.1" y="675.9" width="1" height="64.3" fill="#555050"/>
<rect x="827.02" y="720.5" width="3.2" height="6.7" fill="#4f7d4f"/>
<rect x="827.92" y="721.2" width="1.4" height="5.3" fill="#8ccf8c"/>
<rect x="833.0" y="656.2" width="1" height="44.2" fill="#555050"/>
<rect x="831.93" y="659.8" width="3.2" height="36.6" fill="#7d4b4b"/>
<rect x="832.83" y="660.5" width="1.4" height="35.2" fill="#cf6f6f"/>
<rect x="837.9" y="674.8" width="1" height="33.5" fill="#555050"/>
<rect x="836.84" y="682.1" width="3.2" height="18.3" fill="#7d4b4b"/>
<rect x="837.74" y="682.8" width="1.4" height="16.9" fill="#cf6f6f"/>
<rect x="842.8" y="692.0" width="1" height="17.4" fill="#555050"/>
<rect x="841.75" y="701.8" width="3.2" height="1.2" fill="#555"/>
<rect x="846.9" y="674.1" width="1" height="53.1" fill="#555050"/>
<rect x="845.77" y="702.2" width="3.2" height="8.9" fill="#7d4b4b"/>
<rect x="846.67" y="702.9" width="1.4" height="7.5" fill="#cf6f6f"/>
<rect x="851.8" y="700.4" width="1" height="30.1" fill="#555050"/>
<rect x="850.68" y="702.7" width="3.2" height="16.7" fill="#7d4b4b"/>
<rect x="851.58" y="703.4" width="1.4" height="15.3" fill="#cf6f6f"/>
<rect x="856.9" y="683.0" width="1" height="63.2" fill="#555050"/>
<rect x="855.81" y="706.7" width="3.2" height="38.8" fill="#4f7d4f"/>
<rect x="856.71" y="707.4" width="1.4" height="37.4" fill="#8ccf8c"/>
<rect x="861.8" y="699.3" width="1" height="25.2" fill="#555050"/>
<rect x="860.72" y="703.8" width="3.2" height="3.8" fill="#4f7d4f"/>
<rect x="861.62" y="704.5" width="1.4" height="2.4" fill="#8ccf8c"/>
<rect x="866.1" y="684.4" width="1" height="46.9" fill="#555050"/>
<rect x="864.96" y="702.2" width="3.2" height="21.7" fill="#7d4b4b"/>
<rect x="865.86" y="702.9" width="1.4" height="20.3" fill="#cf6f6f"/>
<rect x="871.0" y="697.1" width="1" height="19.0" fill="#555050"/>
<rect x="869.87" y="703.8" width="3.2" height="5.6" fill="#4f7d4f"/>
<rect x="870.77" y="704.5" width="1.4" height="4.2" fill="#8ccf8c"/>
<rect x="875.9" y="680.8" width="1" height="48.7" fill="#555050"/>
<rect x="874.78" y="683.7" width="3.2" height="41.7" fill="#7d4b4b"/>
<rect x="875.68" y="684.4" width="1.4" height="40.3" fill="#cf6f6f"/>
<rect x="880.8" y="705.4" width="1" height="26.3" fill="#555050"/>
<rect x="879.69" y="714.3" width="3.2" height="15.2" fill="#4f7d4f"/>
<rect x="880.59" y="715.0" width="1.4" height="13.8" fill="#8ccf8c"/>
<rect x="885.0" y="671.9" width="1" height="30.8" fill="#555050"/>
<rect x="883.94" y="674.1" width="3.2" height="14.1" fill="#4f7d4f"/>
<rect x="884.84" y="674.8" width="1.4" height="12.7" fill="#8ccf8c"/>
<rect x="889.9" y="680.8" width="1" height="38.6" fill="#555050"/>
<rect x="888.85" y="682.1" width="3.2" height="37.3" fill="#7d4b4b"/>
<rect x="889.75" y="682.8" width="1.4" height="35.9" fill="#cf6f6f"/>
<rect x="894.9" y="715.0" width="1" height="27.9" fill="#555050"/>
<rect x="893.76" y="717.9" width="3.2" height="15.0" fill="#7d4b4b"/>
<rect x="894.66" y="718.6" width="1.4" height="13.6" fill="#cf6f6f"/>
<rect x="899.8" y="725.0" width="1" height="21.2" fill="#555050"/>
<rect x="898.67" y="737.9" width="3.2" height="5.4" fill="#4f7d4f"/>
<rect x="899.57" y="738.6" width="1.4" height="4.0" fill="#8ccf8c"/>
<rect x="904.0" y="727.2" width="1" height="33.5" fill="#555050"/>
<rect x="902.91" y="735.0" width="3.2" height="22.3" fill="#7d4b4b"/>
<rect x="903.81" y="735.7" width="1.4" height="20.9" fill="#cf6f6f"/>
<rect x="908.9" y="741.7" width="1" height="27.9" fill="#555050"/>
<rect x="907.82" y="756.9" width="3.2" height="6.5" fill="#7d4b4b"/>
<rect x="908.72" y="757.6" width="1.4" height="5.1" fill="#cf6f6f"/>
<rect x="913.8" y="741.1" width="1" height="32.6" fill="#555050"/>
<rect x="912.73" y="745.1" width="3.2" height="25.7" fill="#4f7d4f"/>
<rect x="913.63" y="745.8" width="1.4" height="24.3" fill="#8ccf8c"/>
<rect x="918.7" y="735.0" width="1" height="15.0" fill="#555050"/>
<rect x="917.64" y="738.8" width="3.2" height="5.8" fill="#7d4b4b"/>
<rect x="918.54" y="739.5" width="1.4" height="4.4" fill="#cf6f6f"/>
<rect x="923.0" y="742.9" width="1" height="40.6" fill="#555050"/>
<rect x="921.88" y="759.8" width="3.2" height="19.2" fill="#7d4b4b"/>
<rect x="922.78" y="760.5" width="1.4" height="17.8" fill="#cf6f6f"/>
<rect x="927.9" y="756.2" width="1" height="26.3" fill="#555050"/>
<rect x="926.79" y="773.0" width="3.2" height="4.5" fill="#7d4b4b"/>
<rect x="927.69" y="773.7" width="1.4" height="3.1" fill="#cf6f6f"/>
<rect x="932.8" y="728.3" width="1" height="46.9" fill="#555050"/>
<rect x="931.70" y="735.0" width="3.2" height="26.1" fill="#4f7d4f"/>
<rect x="932.60" y="735.7" width="1.4" height="24.7" fill="#8ccf8c"/>
<rect x="936.8" y="703.8" width="1" height="32.8" fill="#555050"/>
<rect x="935.72" y="733.9" width="3.2" height="1.2" fill="#555"/>
<rect x="942.0" y="715.0" width="1" height="48.4" fill="#555050"/>
<rect x="940.86" y="716.5" width="3.2" height="43.1" fill="#7d4b4b"/>
<rect x="941.76" y="717.2" width="1.4" height="41.7" fill="#cf6f6f"/>
<rect x="946.9" y="723.2" width="1" height="48.2" fill="#555050"/>
<rect x="945.77" y="731.2" width="3.2" height="20.1" fill="#4f7d4f"/>
<rect x="946.67" y="732.0" width="1.4" height="18.7" fill="#8ccf8c"/>
<rect x="951.8" y="691.1" width="1" height="36.6" fill="#555050"/>
<rect x="950.68" y="694.2" width="3.2" height="10.3" fill="#4f7d4f"/>
<rect x="951.58" y="694.9" width="1.4" height="8.9" fill="#8ccf8c"/>
<rect x="956.0" y="679.9" width="1" height="21.7" fill="#555050"/>
<rect x="954.92" y="680.8" width="3.2" height="5.8" fill="#4f7d4f"/>
<rect x="955.82" y="681.5" width="1.4" height="4.4" fill="#8ccf8c"/>
<rect x="960.9" y="681.5" width="1" height="20.8" fill="#555050"/>
<rect x="959.83" y="692.0" width="3.2" height="1.2" fill="#555"/>
<rect x="965.8" y="636.8" width="1" height="56.5" fill="#555050"/>
<rect x="964.74" y="649.6" width="3.2" height="43.1" fill="#4f7d4f"/>
<rect x="965.64" y="650.3" width="1.4" height="41.7" fill="#8ccf8c"/>
<rect x="970.8" y="631.7" width="1" height="33.0" fill="#555050"/>
<rect x="969.65" y="632.4" width="3.2" height="8.9" fill="#4f7d4f"/>
<rect x="970.55" y="633.1" width="1.4" height="7.5" fill="#8ccf8c"/>
<rect x="974.9" y="604.8" width="1" height="39.1" fill="#555050"/>
<rect x="973.80" y="607.1" width="3.2" height="18.3" fill="#4f7d4f"/>
<rect x="974.70" y="607.8" width="1.4" height="16.9" fill="#8ccf8c"/>
<rect x="979.8" y="614.9" width="1" height="29.7" fill="#555050"/>
<rect x="978.71" y="617.1" width="3.2" height="26.8" fill="#7d4b4b"/>
<rect x="979.61" y="617.8" width="1.4" height="25.4" fill="#cf6f6f"/>
<rect x="984.7" y="633.4" width="1" height="35.0" fill="#555050"/>
<rect x="983.62" y="635.0" width="3.2" height="6.7" fill="#7d4b4b"/>
<rect x="984.52" y="635.7" width="1.4" height="5.3" fill="#cf6f6f"/>
<rect x="989.6" y="628.3" width="1" height="19.4" fill="#555050"/>
<rect x="988.53" y="641.2" width="3.2" height="1.2" fill="#555"/>
<rect x="993.9" y="613.3" width="1" height="31.2" fill="#555050"/>
<rect x="992.77" y="626.0" width="3.2" height="15.6" fill="#4f7d4f"/>
<rect x="993.67" y="626.7" width="1.4" height="14.2" fill="#8ccf8c"/>
<rect x="998.8" y="603.0" width="1" height="32.6" fill="#555050"/>
<rect x="997.69" y="607.1" width="3.2" height="18.3" fill="#4f7d4f"/>
<rect x="998.59" y="607.8" width="1.4" height="16.9" fill="#8ccf8c"/>
<rect x="1003.7" y="588.1" width="1" height="28.3" fill="#555050"/>
<rect x="1002.60" y="597.0" width="3.2" height="2.2" fill="#6a9a6a"/>
<rect x="1008.6" y="592.5" width="1" height="53.6" fill="#555050"/>
<rect x="1007.51" y="597.0" width="3.2" height="48.4" fill="#7d4b4b"/>
<rect x="1008.41" y="597.7" width="1.4" height="47.0" fill="#cf6f6f"/>
<rect x="1012.8" y="649.9" width="1" height="33.5" fill="#555050"/>
<rect x="1011.75" y="651.7" width="3.2" height="12.9" fill="#7d4b4b"/>
<rect x="1012.65" y="652.4" width="1.4" height="11.5" fill="#cf6f6f"/>
<rect x="1017.8" y="633.4" width="1" height="38.8" fill="#555050"/>
<rect x="1016.66" y="637.2" width="3.2" height="28.3" fill="#4f7d4f"/>
<rect x="1017.56" y="637.9" width="1.4" height="26.9" fill="#8ccf8c"/>
<rect x="1022.7" y="641.0" width="1" height="31.9" fill="#555050"/>
<rect x="1021.57" y="643.9" width="3.2" height="13.4" fill="#7d4b4b"/>
<rect x="1022.47" y="644.6" width="1.4" height="12.0" fill="#cf6f6f"/>
<rect x="1027.6" y="643.9" width="1" height="48.4" fill="#555050"/>
<rect x="1026.48" y="645.0" width="3.2" height="21.2" fill="#7d4b4b"/>
<rect x="1027.38" y="645.7" width="1.4" height="19.8" fill="#cf6f6f"/>
<rect x="1031.8" y="651.2" width="1" height="35.0" fill="#555050"/>
<rect x="1030.72" y="662.4" width="3.2" height="8.9" fill="#4f7d4f"/>
<rect x="1031.62" y="663.1" width="1.4" height="7.5" fill="#8ccf8c"/>
<rect x="1036.7" y="653.5" width="1" height="18.3" fill="#555050"/>
<rect x="1035.63" y="662.9" width="3.2" height="2.7" fill="#9a5c5c"/>
<rect x="1041.6" y="667.8" width="1" height="32.6" fill="#555050"/>
<rect x="1040.54" y="671.3" width="3.2" height="1.2" fill="#555"/>
<rect x="1046.6" y="662.9" width="1" height="29.5" fill="#555050"/>
<rect x="1045.45" y="674.0" width="3.2" height="10.7" fill="#4f7d4f"/>
<rect x="1046.35" y="674.7" width="1.4" height="9.3" fill="#8ccf8c"/>
<rect x="1050.8" y="657.9" width="1" height="21.0" fill="#555050"/>
<rect x="1049.69" y="670.0" width="3.2" height="8.0" fill="#4f7d4f"/>
<rect x="1050.59" y="670.7" width="1.4" height="6.6" fill="#8ccf8c"/>
<rect x="1055.7" y="655.0" width="1" height="36.4" fill="#555050"/>
<rect x="1054.61" y="676.9" width="3.2" height="9.4" fill="#7d4b4b"/>
<rect x="1055.51" y="677.6" width="1.4" height="8.0" fill="#cf6f6f"/>
<rect x="1060.6" y="669.1" width="1" height="25.4" fill="#555050"/>
<rect x="1059.52" y="675.8" width="3.2" height="12.7" fill="#4f7d4f"/>
<rect x="1060.42" y="676.5" width="1.4" height="11.3" fill="#8ccf8c"/>
<rect x="1064.9" y="658.4" width="1" height="35.3" fill="#555050"/>
<rect x="1063.76" y="666.2" width="3.2" height="6.7" fill="#4f7d4f"/>
<rect x="1064.66" y="666.9" width="1.4" height="5.3" fill="#8ccf8c"/>
<rect x="1069.8" y="650.6" width="1" height="17.2" fill="#555050"/>
<rect x="1068.67" y="651.2" width="3.2" height="6.0" fill="#4f7d4f"/>
<rect x="1069.57" y="652.0" width="1.4" height="4.6" fill="#8ccf8c"/>
<rect x="1074.7" y="623.8" width="1" height="37.9" fill="#555050"/>
<rect x="1073.58" y="626.7" width="3.2" height="25.0" fill="#4f7d4f"/>
<rect x="1074.48" y="627.4" width="1.4" height="23.6" fill="#8ccf8c"/>
<rect x="1079.6" y="623.1" width="1" height="17.4" fill="#555050"/>
<rect x="1078.49" y="634.1" width="3.2" height="1.2" fill="#555"/>
<rect x="1083.8" y="628.3" width="1" height="19.0" fill="#555050"/>
<rect x="1082.73" y="633.4" width="3.2" height="8.3" fill="#7d4b4b"/>
<rect x="1083.63" y="634.1" width="1.4" height="6.9" fill="#cf6f6f"/>
<rect x="1088.7" y="618.2" width="1" height="26.3" fill="#555050"/>
<rect x="1087.64" y="620.9" width="3.2" height="20.8" fill="#4f7d4f"/>
<rect x="1088.54" y="621.6" width="1.4" height="19.4" fill="#8ccf8c"/>
<rect x="1093.7" y="601.5" width="1" height="24.6" fill="#555050"/>
<rect x="1092.55" y="608.2" width="3.2" height="11.2" fill="#4f7d4f"/>
<rect x="1093.45" y="608.9" width="1.4" height="9.8" fill="#8ccf8c"/>
<rect x="1098.6" y="593.2" width="1" height="24.6" fill="#555050"/>
<rect x="1097.46" y="602.1" width="3.2" height="11.2" fill="#4f7d4f"/>
<rect x="1098.36" y="602.8" width="1.4" height="9.8" fill="#8ccf8c"/>
<rect x="1102.8" y="599.9" width="1" height="15.0" fill="#555050"/>
<rect x="1101.70" y="602.1" width="3.2" height="9.4" fill="#7d4b4b"/>
<rect x="1102.60" y="602.8" width="1.4" height="8.0" fill="#cf6f6f"/>
<rect x="1107.7" y="597.0" width="1" height="32.4" fill="#555050"/>
<rect x="1106.61" y="617.1" width="3.2" height="2.2" fill="#9a5c5c"/>
<rect x="1112.6" y="619.3" width="1" height="29.7" fill="#555050"/>
<rect x="1111.53" y="623.8" width="3.2" height="5.6" fill="#7d4b4b"/>
<rect x="1112.42" y="624.5" width="1.4" height="4.2" fill="#cf6f6f"/>
<rect x="1117.5" y="609.3" width="1" height="27.9" fill="#555050"/>
<rect x="1116.44" y="612.6" width="3.2" height="23.9" fill="#4f7d4f"/>
<rect x="1117.34" y="613.3" width="1.4" height="22.5" fill="#8ccf8c"/>
<rect x="1121.8" y="597.7" width="1" height="20.1" fill="#555050"/>
<rect x="1120.68" y="598.1" width="3.2" height="15.6" fill="#4f7d4f"/>
<rect x="1121.58" y="598.8" width="1.4" height="14.2" fill="#8ccf8c"/>
<rect x="1126.6" y="567.0" width="1" height="31.7" fill="#555050"/>
<rect x="1125.54" y="578.1" width="3.2" height="16.5" fill="#4f7d4f"/>
<rect x="1126.44" y="578.8" width="1.4" height="15.1" fill="#8ccf8c"/>
<rect x="1131.6" y="567.9" width="1" height="27.5" fill="#555050"/>
<rect x="1130.45" y="583.0" width="3.2" height="6.2" fill="#7d4b4b"/>
<rect x="1131.35" y="583.7" width="1.4" height="4.8" fill="#cf6f6f"/>
<rect x="1136.5" y="565.2" width="1" height="27.9" fill="#555050"/>
<rect x="1135.36" y="574.1" width="3.2" height="6.2" fill="#7d4b4b"/>
<rect x="1136.26" y="574.8" width="1.4" height="4.8" fill="#cf6f6f"/>
<rect x="1140.7" y="560.3" width="1" height="26.1" fill="#555050"/>
<rect x="1139.61" y="566.3" width="3.2" height="14.1" fill="#4f7d4f"/>
<rect x="1140.51" y="567.0" width="1.4" height="12.7" fill="#8ccf8c"/>
<rect x="1145.6" y="551.8" width="1" height="23.4" fill="#555050"/>
<rect x="1144.52" y="553.6" width="3.2" height="18.8" fill="#4f7d4f"/>
<rect x="1145.42" y="554.3" width="1.4" height="17.4" fill="#8ccf8c"/>
<rect x="1150.5" y="527.2" width="1" height="42.0" fill="#555050"/>
<rect x="1149.43" y="529.5" width="3.2" height="39.1" fill="#4f7d4f"/>
<rect x="1150.33" y="530.2" width="1.4" height="37.7" fill="#8ccf8c"/>
<rect x="1155.4" y="510.5" width="1" height="36.8" fill="#555050"/>
<rect x="1154.34" y="526.1" width="3.2" height="16.7" fill="#7d4b4b"/>
<rect x="1155.24" y="526.8" width="1.4" height="15.3" fill="#cf6f6f"/>
<rect x="1159.7" y="502.2" width="1" height="31.3" fill="#555050"/>
<rect x="1158.58" y="508.3" width="3.2" height="17.2" fill="#4f7d4f"/>
<rect x="1159.48" y="509.0" width="1.4" height="15.8" fill="#8ccf8c"/>
<rect x="1164.6" y="500.9" width="1" height="33.5" fill="#555050"/>
<rect x="1163.49" y="501.6" width="3.2" height="23.9" fill="#7d4b4b"/>
<rect x="1164.39" y="502.3" width="1.4" height="22.5" fill="#cf6f6f"/>
<rect x="1169.5" y="500.4" width="1" height="40.2" fill="#555050"/>
<rect x="1168.40" y="506.0" width="3.2" height="19.4" fill="#4f7d4f"/>
<rect x="1169.30" y="506.7" width="1.4" height="18.0" fill="#8ccf8c"/>
<rect x="1174.4" y="475.9" width="1" height="33.5" fill="#555050"/>
<rect x="1173.31" y="477.0" width="3.2" height="26.8" fill="#4f7d4f"/>
<rect x="1174.21" y="477.7" width="1.4" height="25.4" fill="#8ccf8c"/>
<rect x="1178.4" y="460.3" width="1" height="20.1" fill="#555050"/>
<rect x="1177.33" y="468.1" width="3.2" height="10.5" fill="#4f7d4f"/>
<rect x="1178.23" y="468.8" width="1.4" height="9.1" fill="#8ccf8c"/>
<rect x="1183.6" y="445.8" width="1" height="42.4" fill="#555050"/>
<rect x="1182.46" y="456.9" width="3.2" height="9.6" fill="#7d4b4b"/>
<rect x="1183.36" y="457.6" width="1.4" height="8.2" fill="#cf6f6f"/>
<rect x="1188.5" y="456.2" width="1" height="44.2" fill="#555050"/>
<rect x="1187.37" y="474.8" width="3.2" height="21.7" fill="#7d4b4b"/>
<rect x="1188.27" y="475.5" width="1.4" height="20.3" fill="#cf6f6f"/>
<rect x="1193.4" y="485.3" width="1" height="28.6" fill="#555050"/>
<rect x="1192.28" y="499.3" width="3.2" height="12.7" fill="#4f7d4f"/>
<rect x="1193.18" y="500.0" width="1.4" height="11.3" fill="#8ccf8c"/>
<rect x="1197.4" y="485.3" width="1" height="19.2" fill="#555050"/>
<rect x="1196.30" y="494.9" width="3.2" height="8.9" fill="#7d4b4b"/>
<rect x="1197.20" y="495.6" width="1.4" height="7.5" fill="#cf6f6f"/>
<rect x="1202.3" y="497.1" width="1" height="22.3" fill="#555050"/>
<rect x="1201.21" y="497.1" width="3.2" height="2.2" fill="#9a5c5c"/>
<rect x="1207.2" y="497.1" width="1" height="23.4" fill="#555050"/>
<rect x="1206.12" y="498.7" width="3.2" height="14.1" fill="#7d4b4b"/>
<rect x="1207.02" y="499.4" width="1.4" height="12.7" fill="#cf6f6f"/>
<rect x="1211.5" y="497.1" width="1" height="24.6" fill="#555050"/>
<rect x="1210.36" y="498.7" width="3.2" height="17.4" fill="#7d4b4b"/>
<rect x="1211.26" y="499.4" width="1.4" height="16.0" fill="#cf6f6f"/>
<rect x="1216.4" y="489.3" width="1" height="20.5" fill="#555050"/>
<rect x="1215.28" y="492.6" width="3.2" height="11.2" fill="#4f7d4f"/>
<rect x="1216.17" y="493.3" width="1.4" height="9.8" fill="#8ccf8c"/>
<rect x="1221.3" y="487.5" width="1" height="35.7" fill="#555050"/>
<rect x="1220.19" y="492.6" width="3.2" height="27.5" fill="#7d4b4b"/>
<rect x="1221.09" y="493.3" width="1.4" height="26.1" fill="#cf6f6f"/>
<rect x="1226.2" y="517.2" width="1" height="27.5" fill="#555050"/>
<rect x="1225.10" y="518.8" width="3.2" height="8.9" fill="#7d4b4b"/>
<rect x="1226.00" y="519.5" width="1.4" height="7.5" fill="#cf6f6f"/>
<rect x="1230.4" y="495.5" width="1" height="35.7" fill="#555050"/>
<rect x="1229.34" y="507.1" width="3.2" height="16.1" fill="#4f7d4f"/>
<rect x="1230.24" y="507.8" width="1.4" height="14.7" fill="#8ccf8c"/>
<rect x="1235.3" y="490.4" width="1" height="23.0" fill="#555050"/>
<rect x="1234.25" y="503.1" width="3.2" height="6.2" fill="#4f7d4f"/>
<rect x="1235.15" y="503.8" width="1.4" height="4.8" fill="#8ccf8c"/>
<rect x="1240.3" y="489.7" width="1" height="14.1" fill="#555050"/>
<rect x="1239.16" y="490.4" width="3.2" height="11.8" fill="#7d4b4b"/>
<rect x="1240.06" y="491.1" width="1.4" height="10.4" fill="#cf6f6f"/>
<rect x="1245.2" y="501.6" width="1" height="35.0" fill="#555050"/>
<rect x="1244.07" y="504.9" width="3.2" height="21.9" fill="#7d4b4b"/>
<rect x="1244.97" y="505.6" width="1.4" height="20.5" fill="#cf6f6f"/>
<rect x="1249.4" y="519.4" width="1" height="17.2" fill="#555050"/>
<rect x="1248.31" y="520.1" width="3.2" height="6.0" fill="#7d4b4b"/>
<rect x="1249.21" y="520.8" width="1.4" height="4.6" fill="#cf6f6f"/>
<rect x="1254.3" y="525.4" width="1" height="17.0" fill="#555050"/>
<rect x="1253.22" y="533.9" width="3.2" height="6.2" fill="#7d4b4b"/>
<rect x="1254.12" y="534.6" width="1.4" height="4.8" fill="#cf6f6f"/>
<rect x="1259.2" y="509.4" width="1" height="32.4" fill="#555050"/>
<rect x="1258.13" y="516.1" width="3.2" height="21.9" fill="#4f7d4f"/>
<rect x="1259.03" y="516.8" width="1.4" height="20.5" fill="#8ccf8c"/>
<rect x="1264.1" y="497.1" width="1" height="35.7" fill="#555050"/>
<rect x="1263.04" y="500.9" width="3.2" height="17.0" fill="#4f7d4f"/>
<rect x="1263.94" y="501.6" width="1.4" height="15.6" fill="#8ccf8c"/>
<rect x="1268.4" y="503.1" width="1" height="27.5" fill="#555050"/>
<rect x="1267.28" y="504.9" width="3.2" height="21.2" fill="#7d4b4b"/>
<rect x="1268.18" y="505.6" width="1.4" height="19.8" fill="#cf6f6f"/>
<rect x="1273.3" y="497.1" width="1" height="27.5" fill="#555050"/>
<rect x="1272.19" y="500.9" width="3.2" height="18.5" fill="#4f7d4f"/>
<rect x="1273.09" y="501.6" width="1.4" height="17.1" fill="#8ccf8c"/>
<rect x="1278.2" y="477.0" width="1" height="20.8" fill="#555050"/>
<rect x="1277.11" y="484.8" width="3.2" height="5.6" fill="#4f7d4f"/>
<rect x="1278.01" y="485.5" width="1.4" height="4.2" fill="#8ccf8c"/>
<rect x="1283.1" y="485.3" width="1" height="51.3" fill="#555050"/>
<rect x="1282.02" y="488.8" width="3.2" height="37.3" fill="#7d4b4b"/>
<rect x="1282.92" y="489.5" width="1.4" height="35.9" fill="#cf6f6f"/>
<rect x="1287.4" y="527.7" width="1" height="31.2" fill="#555050"/>
<rect x="1286.26" y="535.0" width="3.2" height="2.2" fill="#6a9a6a"/>
<rect x="1292.3" y="533.9" width="1" height="16.1" fill="#555050"/>
<rect x="1291.17" y="534.4" width="3.2" height="10.3" fill="#7d4b4b"/>
<rect x="1292.07" y="535.1" width="1.4" height="8.9" fill="#cf6f6f"/>
<rect x="1297.2" y="533.9" width="1" height="20.5" fill="#555050"/>
<rect x="1296.08" y="540.2" width="3.2" height="5.4" fill="#4f7d4f"/>
<rect x="1296.98" y="540.9" width="1.4" height="4.0" fill="#8ccf8c"/>
<rect x="1302.1" y="523.9" width="1" height="26.8" fill="#555050"/>
<rect x="1300.99" y="529.9" width="3.2" height="10.7" fill="#4f7d4f"/>
<rect x="1301.89" y="530.6" width="1.4" height="9.3" fill="#8ccf8c"/>
<rect x="1306.3" y="524.6" width="1" height="26.1" fill="#555050"/>
<rect x="1305.23" y="529.9" width="3.2" height="5.8" fill="#4f7d4f"/>
<rect x="1306.13" y="530.6" width="1.4" height="4.4" fill="#8ccf8c"/>
<rect x="1311.2" y="500.0" width="1" height="47.8" fill="#555050"/>
<rect x="1310.14" y="503.8" width="3.2" height="24.6" fill="#4f7d4f"/>
<rect x="1311.04" y="504.5" width="1.4" height="23.2" fill="#8ccf8c"/>
<rect x="1316.2" y="484.8" width="1" height="44.2" fill="#555050"/>
<rect x="1315.05" y="503.8" width="3.2" height="16.3" fill="#7d4b4b"/>
<rect x="1315.95" y="504.5" width="1.4" height="14.9" fill="#cf6f6f"/>
<rect x="1321.1" y="473.2" width="1" height="44.6" fill="#555050"/>
<rect x="1319.96" y="500.9" width="3.2" height="9.6" fill="#4f7d4f"/>
<rect x="1320.86" y="501.6" width="1.4" height="8.2" fill="#8ccf8c"/>
<rect x="1325.3" y="488.8" width="1" height="32.8" fill="#555050"/>
<rect x="1324.20" y="500.0" width="3.2" height="11.6" fill="#7d4b4b"/>
<rect x="1325.10" y="500.7" width="1.4" height="10.2" fill="#cf6f6f"/>
<rect x="1330.2" y="477.0" width="1" height="36.8" fill="#555050"/>
<rect x="1329.11" y="494.9" width="3.2" height="8.9" fill="#4f7d4f"/>
<rect x="1330.01" y="495.6" width="1.4" height="7.5" fill="#8ccf8c"/>
<rect x="1335.1" y="487.1" width="1" height="19.6" fill="#555050"/>
<rect x="1334.03" y="490.8" width="3.2" height="11.4" fill="#7d4b4b"/>
<rect x="1334.92" y="491.5" width="1.4" height="10.0" fill="#cf6f6f"/>
<rect x="1340.0" y="503.1" width="1" height="27.5" fill="#555050"/>
<rect x="1338.94" y="504.9" width="3.2" height="16.7" fill="#7d4b4b"/>
<rect x="1339.84" y="505.6" width="1.4" height="15.3" fill="#cf6f6f"/>
<rect x="1344.3" y="514.3" width="1" height="14.7" fill="#555050"/>
<rect x="1343.18" y="523.9" width="3.2" height="4.5" fill="#4f7d4f"/>
<rect x="1344.08" y="524.6" width="1.4" height="3.1" fill="#8ccf8c"/>
<rect x="1349.2" y="473.2" width="1" height="50.7" fill="#555050"/>
<rect x="1348.09" y="491.1" width="3.2" height="20.5" fill="#4f7d4f"/>
<rect x="1348.99" y="491.8" width="1.4" height="19.1" fill="#8ccf8c"/>
<rect x="1354.1" y="484.8" width="1" height="21.9" fill="#555050"/>
<rect x="1353.00" y="485.3" width="3.2" height="6.2" fill="#4f7d4f"/>
<rect x="1353.90" y="486.0" width="1.4" height="4.8" fill="#8ccf8c"/>
<rect x="1358.3" y="467.0" width="1" height="34.6" fill="#555050"/>
<rect x="1357.24" y="471.0" width="3.2" height="25.4" fill="#4f7d4f"/>
<rect x="1358.14" y="471.7" width="1.4" height="24.0" fill="#8ccf8c"/>
<rect x="1363.2" y="465.2" width="1" height="28.6" fill="#555050"/>
<rect x="1362.15" y="474.1" width="3.2" height="2.9" fill="#6a9a6a"/>
<rect x="1368.2" y="471.0" width="1" height="41.7" fill="#555050"/>
<rect x="1367.06" y="479.2" width="3.2" height="30.6" fill="#7d4b4b"/>
<rect x="1367.96" y="479.9" width="1.4" height="29.2" fill="#cf6f6f"/>
<rect x="1373.1" y="452.5" width="1" height="49.1" fill="#555050"/>
<rect x="1371.97" y="479.2" width="3.2" height="17.9" fill="#4f7d4f"/>
<rect x="1372.87" y="479.9" width="1.4" height="16.5" fill="#8ccf8c"/>
<rect x="1377.3" y="453.6" width="1" height="33.9" fill="#555050"/>
<rect x="1376.21" y="463.2" width="3.2" height="16.1" fill="#4f7d4f"/>
<rect x="1377.11" y="463.9" width="1.4" height="14.7" fill="#8ccf8c"/>
<rect x="1382.2" y="433.9" width="1" height="38.6" fill="#555050"/>
<rect x="1381.12" y="442.0" width="3.2" height="29.9" fill="#4f7d4f"/>
<rect x="1382.02" y="442.7" width="1.4" height="28.5" fill="#8ccf8c"/>
<rect x="1387.1" y="441.3" width="1" height="27.5" fill="#555050"/>
<rect x="1386.03" y="449.6" width="3.2" height="4.0" fill="#4f7d4f"/>
<rect x="1386.93" y="450.3" width="1.4" height="2.6" fill="#8ccf8c"/>
<rect x="1392.0" y="436.2" width="1" height="24.1" fill="#555050"/>
<rect x="1390.94" y="442.9" width="3.2" height="6.7" fill="#7d4b4b"/>
<rect x="1391.84" y="443.6" width="1.4" height="5.3" fill="#cf6f6f"/>
<rect x="1396.3" y="444.2" width="1" height="23.2" fill="#555050"/>
<rect x="1395.19" y="446.2" width="3.2" height="10.7" fill="#4f7d4f"/>
<rect x="1396.09" y="446.9" width="1.4" height="9.3" fill="#8ccf8c"/>
<rect x="1401.0" y="306.5" width="1" height="65.3" fill="#555050"/>
<rect x="1399.88" y="311.8" width="3.2" height="55.4" fill="#4f7d4f"/>
<rect x="1400.78" y="312.5" width="1.4" height="54.0" fill="#8ccf8c"/>
<rect x="1405.9" y="273.1" width="1" height="47.4" fill="#555050"/>
<rect x="1404.81" y="280.0" width="3.2" height="31.1" fill="#4f7d4f"/>
<rect x="1405.71" y="280.7" width="1.4" height="29.7" fill="#8ccf8c"/>
<rect x="1410.8" y="235.9" width="1" height="51.6" fill="#555050"/>
<rect x="1409.75" y="239.7" width="3.2" height="41.0" fill="#4f7d4f"/>
<rect x="1410.65" y="240.4" width="1.4" height="39.6" fill="#8ccf8c"/>
<rect x="1415.4" y="242.8" width="1" height="297.9" fill="#555050"/>
<rect x="1414.30" y="249.6" width="3.2" height="16.7" fill="#7d4b4b"/>
<rect x="1415.20" y="250.3" width="1.4" height="15.3" fill="#cf6f6f"/>
<rect x="1420.0" y="249.6" width="1" height="33.0" fill="#555050"/>
<rect x="1418.86" y="272.0" width="3.2" height="1.2" fill="#555"/>
<rect x="1424.9" y="224.6" width="1" height="46.7" fill="#555050"/>
<rect x="1423.79" y="226.8" width="3.2" height="41.7" fill="#4f7d4f"/>
<rect x="1424.69" y="227.5" width="1.4" height="40.3" fill="#8ccf8c"/>
<rect x="1429.9" y="185.6" width="1" height="38.9" fill="#555050"/>
<rect x="1428.83" y="186.1" width="3.2" height="36.6" fill="#4f7d4f"/>
<rect x="1429.73" y="186.8" width="1.4" height="35.2" fill="#8ccf8c"/>
<rect x="1434.1" y="184.6" width="1" height="15.4" fill="#555050"/>
<rect x="1433.02" y="189.8" width="3.2" height="3.0" fill="#6a9a6a"/>
<rect x="1439.1" y="176.3" width="1" height="29.9" fill="#555050"/>
<rect x="1437.96" y="176.6" width="3.2" height="12.4" fill="#4f7d4f"/>
<rect x="1438.86" y="177.3" width="1.4" height="11.0" fill="#8ccf8c"/>
<rect x="1444.0" y="152.7" width="1" height="40.1" fill="#555050"/>
<rect x="1442.90" y="153.9" width="3.2" height="29.2" fill="#4f7d4f"/>
<rect x="1443.80" y="154.6" width="1.4" height="27.8" fill="#8ccf8c"/>
<rect x="1448.9" y="156.1" width="1" height="22.9" fill="#555050"/>
<rect x="1447.83" y="156.6" width="3.2" height="8.5" fill="#4f7d4f"/>
<rect x="1448.73" y="157.3" width="1.4" height="7.1" fill="#8ccf8c"/>
<rect x="1453.0" y="142.7" width="1" height="29.9" fill="#555050"/>
<rect x="1451.87" y="146.4" width="3.2" height="19.4" fill="#4f7d4f"/>
<rect x="1452.77" y="147.1" width="1.4" height="18.0" fill="#8ccf8c"/>
<rect x="1458.1" y="162.6" width="1" height="38.4" fill="#555050"/>
<rect x="1456.96" y="173.6" width="3.2" height="21.4" fill="#7d4b4b"/>
<rect x="1457.86" y="174.3" width="1.4" height="20.0" fill="#cf6f6f"/>
<rect x="1463.0" y="192.5" width="1" height="13.8" fill="#555050"/>
<rect x="1461.89" y="193.2" width="3.2" height="7.8" fill="#7d4b4b"/>
<rect x="1462.79" y="193.9" width="1.4" height="6.4" fill="#cf6f6f"/>
<rect x="1467.9" y="184.6" width="1" height="18.7" fill="#555050"/>
<rect x="1466.83" y="188.0" width="3.2" height="7.0" fill="#7d4b4b"/>
<rect x="1467.73" y="188.7" width="1.4" height="5.6" fill="#cf6f6f"/>
<rect x="1472.1" y="164.7" width="1" height="31.1" fill="#555050"/>
<rect x="1471.02" y="170.1" width="3.2" height="19.4" fill="#4f7d4f"/>
<rect x="1471.92" y="170.8" width="1.4" height="18.0" fill="#8ccf8c"/>
<rect x="1476.9" y="133.3" width="1" height="36.8" fill="#555050"/>
<rect x="1475.80" y="138.6" width="3.2" height="17.1" fill="#4f7d4f"/>
<rect x="1476.70" y="139.3" width="1.4" height="15.7" fill="#8ccf8c"/>
<rect x="1482.0" y="139.7" width="1" height="62.1" fill="#555050"/>
<rect x="1480.89" y="140.1" width="3.2" height="57.9" fill="#7d4b4b"/>
<rect x="1481.79" y="140.8" width="1.4" height="56.5" fill="#cf6f6f"/>
<rect x="1487.1" y="197.0" width="1" height="24.5" fill="#555050"/>
<rect x="1485.98" y="197.3" width="3.2" height="6.7" fill="#7d4b4b"/>
<rect x="1486.88" y="198.0" width="1.4" height="5.3" fill="#cf6f6f"/>
<rect x="1491.1" y="158.7" width="1" height="43.4" fill="#555050"/>
<rect x="1490.02" y="172.6" width="3.2" height="26.5" fill="#4f7d4f"/>
<rect x="1490.92" y="173.3" width="1.4" height="25.1" fill="#8ccf8c"/>
<rect x="1496.1" y="158.7" width="1" height="22.1" fill="#555050"/>
<rect x="1494.95" y="159.1" width="3.2" height="20.5" fill="#7d4b4b"/>
<rect x="1495.85" y="159.8" width="1.4" height="19.1" fill="#cf6f6f"/>
<rect x="1501.0" y="159.6" width="1" height="45.5" fill="#555050"/>
<rect x="1499.89" y="182.3" width="3.2" height="22.4" fill="#4f7d4f"/>
<rect x="1500.79" y="183.0" width="1.4" height="21.0" fill="#8ccf8c"/>
<rect x="1505.0" y="162.6" width="1" height="29.5" fill="#555050"/>
<rect x="1503.93" y="178.1" width="3.2" height="12.4" fill="#4f7d4f"/>
<rect x="1504.83" y="178.8" width="1.4" height="11.0" fill="#8ccf8c"/>
<rect x="1510.0" y="162.9" width="1" height="16.2" fill="#555050"/>
<rect x="1508.86" y="165.9" width="3.2" height="4.8" fill="#4f7d4f"/>
<rect x="1509.76" y="166.6" width="1.4" height="3.4" fill="#8ccf8c"/>
<rect x="1514.9" y="163.6" width="1" height="17.5" fill="#555050"/>
<rect x="1513.80" y="170.4" width="3.2" height="6.3" fill="#4f7d4f"/>
<rect x="1514.70" y="171.1" width="1.4" height="4.9" fill="#8ccf8c"/>
<rect x="1520.0" y="160.6" width="1" height="40.4" fill="#555050"/>
<rect x="1518.89" y="164.4" width="3.2" height="10.8" fill="#7d4b4b"/>
<rect x="1519.79" y="165.1" width="1.4" height="9.4" fill="#cf6f6f"/>
<rect x="1524.0" y="169.6" width="1" height="22.4" fill="#555050"/>
<rect x="1522.93" y="176.3" width="3.2" height="15.0" fill="#7d4b4b"/>
<rect x="1523.83" y="177.0" width="1.4" height="13.6" fill="#cf6f6f"/>
<rect x="1529.0" y="156.6" width="1" height="24.2" fill="#555050"/>
<rect x="1527.86" y="170.7" width="3.2" height="6.0" fill="#4f7d4f"/>
<rect x="1528.76" y="171.4" width="1.4" height="4.6" fill="#8ccf8c"/>
<rect x="1533.9" y="151.7" width="1" height="39.6" fill="#555050"/>
<rect x="1532.80" y="172.2" width="3.2" height="1.9" fill="#6a9a6a"/>
<rect x="1538.8" y="158.7" width="1" height="17.4" fill="#555050"/>
<rect x="1537.73" y="167.7" width="3.2" height="6.0" fill="#7d4b4b"/>
<rect x="1538.63" y="168.4" width="1.4" height="4.6" fill="#cf6f6f"/>
<rect x="1543.0" y="152.7" width="1" height="35.3" fill="#555050"/>
<rect x="1541.92" y="154.6" width="3.2" height="25.0" fill="#4f7d4f"/>
<rect x="1542.82" y="155.3" width="1.4" height="23.6" fill="#8ccf8c"/>
<rect x="1547.8" y="143.4" width="1" height="23.6" fill="#555050"/>
<rect x="1546.71" y="161.7" width="3.2" height="1.9" fill="#6a9a6a"/>
<rect x="1552.9" y="163.6" width="1" height="11.5" fill="#555050"/>
<rect x="1551.80" y="164.1" width="3.2" height="1.2" fill="#6a9a6a"/>
<rect x="1557.8" y="150.6" width="1" height="23.5" fill="#555050"/>
<rect x="1556.73" y="158.4" width="3.2" height="15.0" fill="#4f7d4f"/>
<rect x="1557.63" y="159.1" width="1.4" height="13.6" fill="#8ccf8c"/>
</g>
<g id="lines" fill="none" stroke-linecap="round" stroke-linejoin="round">
<polyline points="37.8,497.3 189.0,222.5 327.7,546.4 558.4,367.6 922.9,780.5 327.7,546.4 37.8,497.3" stroke="#3e9bf0" stroke-width="2.5"/>
<circle cx="37.8" cy="497.3" r="2.3" fill="#3e9bf0" stroke="none"/>
<circle cx="189.0" cy="222.5" r="2.3" fill="#3e9bf0" stroke="none"/>
<circle cx="327.7" cy="546.4" r="2.3" fill="#3e9bf0" stroke="none"/>
<circle cx="558.4" cy="367.6" r="2.3" fill="#3e9bf0" stroke="none"/>
<circle cx="922.9" cy="780.5" r="2.3" fill="#3e9bf0" stroke="none"/>
<line x1="37.8" y1="497.3" x2="1558.5" y2="119.8" stroke="#1be61f" stroke-width="2.3"/>
<line x1="37.8" y1="497.3" x2="327.7" y2="546.4" stroke="#1be61f" stroke-width="2" stroke-dasharray="5.6 4.4" stroke-linecap="butt" opacity="0.5"/>
<line x1="332.7" y1="547.3" x2="1558.4" y2="761.0" stroke="#1be61f" stroke-width="2.2" stroke-dasharray="5.6 4.4" stroke-linecap="butt"/>
<line x1="922.5" y1="222" x2="1558" y2="222" stroke="#1be61f" stroke-width="2.2" stroke-linecap="butt"/>
<line x1="922.5" y1="816.8" x2="1558" y2="816.8" stroke="#2a8fe8" stroke-width="2.6" stroke-linecap="butt"/>
</g>
<rect x="0" y="0" width="1598" height="118.8" fill="url(#hg)"/>
<g id="title" filter="url(#ts)" font-size="72.3" font-weight="bold" fill="#fff">
<text x="117.4" y="85.6" textLength="250.4" lengthAdjust="spacingAndGlyphs">Bullish</text>
<text x="390.6" y="85.6" textLength="207.5" lengthAdjust="spacingAndGlyphs">Wolfe</text>
<text x="618.0" y="85.6" textLength="222.3" lengthAdjust="spacingAndGlyphs">Wave:</text>
<text x="852.9" y="85.6" textLength="260.1" lengthAdjust="spacingAndGlyphs">Signals</text>
<text x="1132.0" y="85.6" textLength="157.2" lengthAdjust="spacingAndGlyphs">with</text>
<text x="1308.6" y="85.6" textLength="172.6" lengthAdjust="spacingAndGlyphs">Exits</text>
</g>
<clipPath id="c1"><rect x="28" y="550" width="22" height="21.6"/><rect x="37.9" y="571" width="3.3" height="8"/></clipPath>
<text class="num" x="38.9" y="576" text-anchor="middle" clip-path="url(#c1)">1</text>
<text class="num" x="189.3" y="157.4" text-anchor="middle">2</text>
<text class="num" x="327.2" y="626" text-anchor="middle">3</text>
<text class="num" x="558.5" y="302.6" text-anchor="middle">4</text>
<text class="num" x="923.5" y="858.2" text-anchor="middle">5</text>
<text class="num" x="1238.0" y="859.3" text-anchor="middle" style="font-size:23px" textLength="94" lengthAdjust="spacingAndGlyphs">SL: 31,77</text>
<text x="1237.9" y="193.1" text-anchor="middle" font-size="22.6" font-weight="bold" fill="#1be61f" textLength="96" lengthAdjust="spacingAndGlyphs">TP: 40,65</text>
<rect x="631.0" y="166.7" width="253" height="85.30000000000001" rx="37.5" ry="37.5" fill="#fff" stroke="#1be61f" stroke-width="6"/>
<text class="call" x="758.25" y="225" text-anchor="middle" font-size="43.5" fill="#1be61f" textLength="181.5" lengthAdjust="spacingAndGlyphs">EPA Line</text>
<rect x="1104.7" y="303.6" width="201.5999999999999" height="85.89999999999998" rx="37.5" ry="37.5" fill="#fff" stroke="#1be61f" stroke-width="6"/>
<text class="call" x="1206.3000000000002" y="361.4" text-anchor="middle" font-size="43.5" fill="#1be61f" textLength="136.2" lengthAdjust="spacingAndGlyphs">Target</text>
<rect x="1130.4" y="679.1" width="194.69999999999982" height="83.60000000000002" rx="37.5" ry="37.5" fill="#fff" stroke="#1be61f" stroke-width="6"/>
<text class="call" x="1228.3" y="736" text-anchor="middle" font-size="43.5" fill="#1be61f" textLength="149.0" lengthAdjust="spacingAndGlyphs">Signals</text>
<rect x="579.3" y="775.5" width="240.5" height="84.60000000000002" rx="37.5" ry="37.5" fill="#fff" stroke="#0d99db" stroke-width="6"/>
<text class="call" x="699.25" y="830.8" text-anchor="middle" font-size="43.5" fill="#0d99db" textLength="197.5" lengthAdjust="spacingAndGlyphs">Stop-loss</text>
<g stroke-linecap="round" stroke-linejoin="round">
<line x1="774" y1="256" x2="794" y2="286" stroke="#1be61f" stroke-width="4.8"/>
<polygon points="799,293 787.5,287 797,280.5" fill="#1be61f" stroke="#1be61f" stroke-width="2"/>
<line x1="1206.2" y1="300" x2="1206.2" y2="244" stroke="#1be61f" stroke-width="4"/>
<polygon points="1206.2,236 1199.5,246 1213,246" fill="#1be61f" stroke="#1be61f" stroke-width="2"/>
<line x1="1128" y1="721" x2="1094" y2="721" stroke="#1be61f" stroke-width="4"/>
<polygon points="1085,721 1095,713.5 1095,728.5" fill="#1be61f" stroke="#1be61f" stroke-width="2"/>
<line x1="822" y1="817.6" x2="903" y2="817.6" stroke="#0d99db" stroke-width="4"/>
<polygon points="911.5,817.6 902,810.5 902,824.7" fill="#0d99db" stroke="#0d99db" stroke-width="2"/>
</g>
<polygon points="1050.6,707 1056.8,713.8 1053.3999999999999,713.8 1053.3999999999999,720.3 1047.8,720.3 1047.8,713.8 1044.3999999999999,713.8" fill="#1be61f"/>
<polygon points="1065,723 1071.2,729.8 1067.8,729.8 1067.8,735.4 1062.2,735.4 1062.2,729.8 1058.8,729.8" fill="#1be61f"/>
<g id="axis">
<rect x="1562" y="867.3" width="4" height="1" fill="#999"/>
<text class="ay" x="1568.5" y="871.4">31</text>
<rect x="1562" y="800.3" width="4" height="1" fill="#999"/>
<text class="ay" x="1568.5" y="804.4">32</text>
<rect x="1562" y="733.3" width="4" height="1" fill="#999"/>
<text class="ay" x="1568.5" y="737.4">33</text>
<rect x="1562" y="666.4" width="4" height="1" fill="#999"/>
<text class="ay" x="1568.5" y="670.5">34</text>
<rect x="1562" y="599.4" width="4" height="1" fill="#999"/>
<text class="ayb" x="1568.5" y="603.5">35</text>
<rect x="1562" y="532.5" width="4" height="1" fill="#999"/>
<text class="ay" x="1568.5" y="536.6">36</text>
<rect x="1562" y="465.5" width="4" height="1" fill="#999"/>
<text class="ay" x="1568.5" y="469.6">37</text>
<rect x="1562" y="398.5" width="4" height="1" fill="#999"/>
<text class="ay" x="1568.5" y="402.6">38</text>
<rect x="1562" y="331.6" width="4" height="1" fill="#999"/>
<text class="ay" x="1568.5" y="335.7">39</text>
<rect x="1562" y="264.6" width="4" height="1" fill="#999"/>
<text class="ayb" x="1568.5" y="268.7">40</text>
<rect x="1562" y="197.7" width="4" height="1" fill="#999"/>
<text class="ay" x="1568.5" y="201.8">41</text>
<rect x="1562" y="130.7" width="4" height="1" fill="#999"/>
<text class="ay" x="1568.5" y="134.8">42</text>
<rect x="84.3" y="877" width="1" height="3" fill="#999"/>
<text class="ax" x="84.8" y="890.8" text-anchor="middle">sept.</text>
<rect x="184.2" y="877" width="1" height="3" fill="#999"/>
<text class="ax" x="184.7" y="890.8" text-anchor="middle">oct.</text>
<rect x="283.4" y="877" width="1" height="3" fill="#999"/>
<text class="ax" x="283.9" y="890.8" text-anchor="middle">nov.</text>
<rect x="383.1" y="877" width="1" height="3" fill="#999"/>
<text class="ax" x="383.6" y="890.8" text-anchor="middle">déc.</text>
<rect x="482.1" y="877" width="1" height="3" fill="#999"/>
<text class="axb" x="482.6" y="890.8" text-anchor="middle">2006</text>
<rect x="577.3" y="877" width="1" height="3" fill="#999"/>
<text class="ax" x="577.8" y="890.8" text-anchor="middle">févr.</text>
<rect x="666.5" y="877" width="1" height="3" fill="#999"/>
<text class="ax" x="667" y="890.8" text-anchor="middle">mars</text>
<rect x="775.7" y="877" width="1" height="3" fill="#999"/>
<text class="ax" x="776.2" y="890.8" text-anchor="middle">avr.</text>
<rect x="866.1" y="877" width="1" height="3" fill="#999"/>
<text class="ax" x="866.6" y="890.8" text-anchor="middle">mai</text>
<rect x="970.2" y="877" width="1" height="3" fill="#999"/>
<text class="ax" x="970.7" y="890.8" text-anchor="middle">juin</text>
<rect x="1074.4" y="877" width="1" height="3" fill="#999"/>
<text class="ax" x="1074.9" y="890.8" text-anchor="middle">juil.</text>
<rect x="1169.5" y="877" width="1" height="3" fill="#999"/>
<text class="ax" x="1170" y="890.8" text-anchor="middle">août</text>
<rect x="1277.7" y="877" width="1" height="3" fill="#999"/>
<text class="ax" x="1278.2" y="890.8" text-anchor="middle">sept.</text>
<rect x="1372.3" y="877" width="1" height="3" fill="#999"/>
<text class="ax" x="1372.8" y="890.8" text-anchor="middle">oct.</text>
<rect x="1476.9" y="877" width="1" height="3" fill="#999"/>
<text class="ax" x="1477.4" y="890.8" text-anchor="middle">nov.</text>
<text class="ax" x="3" y="875.8" textLength="139" lengthAdjust="spacingAndGlyphs">IT-Finance.com - Temps Réel</text>
<rect x="1539.3" y="877.7" width="15.5" height="16" fill="#3b8de0"/>
<text x="1547" y="891.3" text-anchor="middle" font-size="18" fill="#fff">»</text>
</g>
</svg></body></html>
